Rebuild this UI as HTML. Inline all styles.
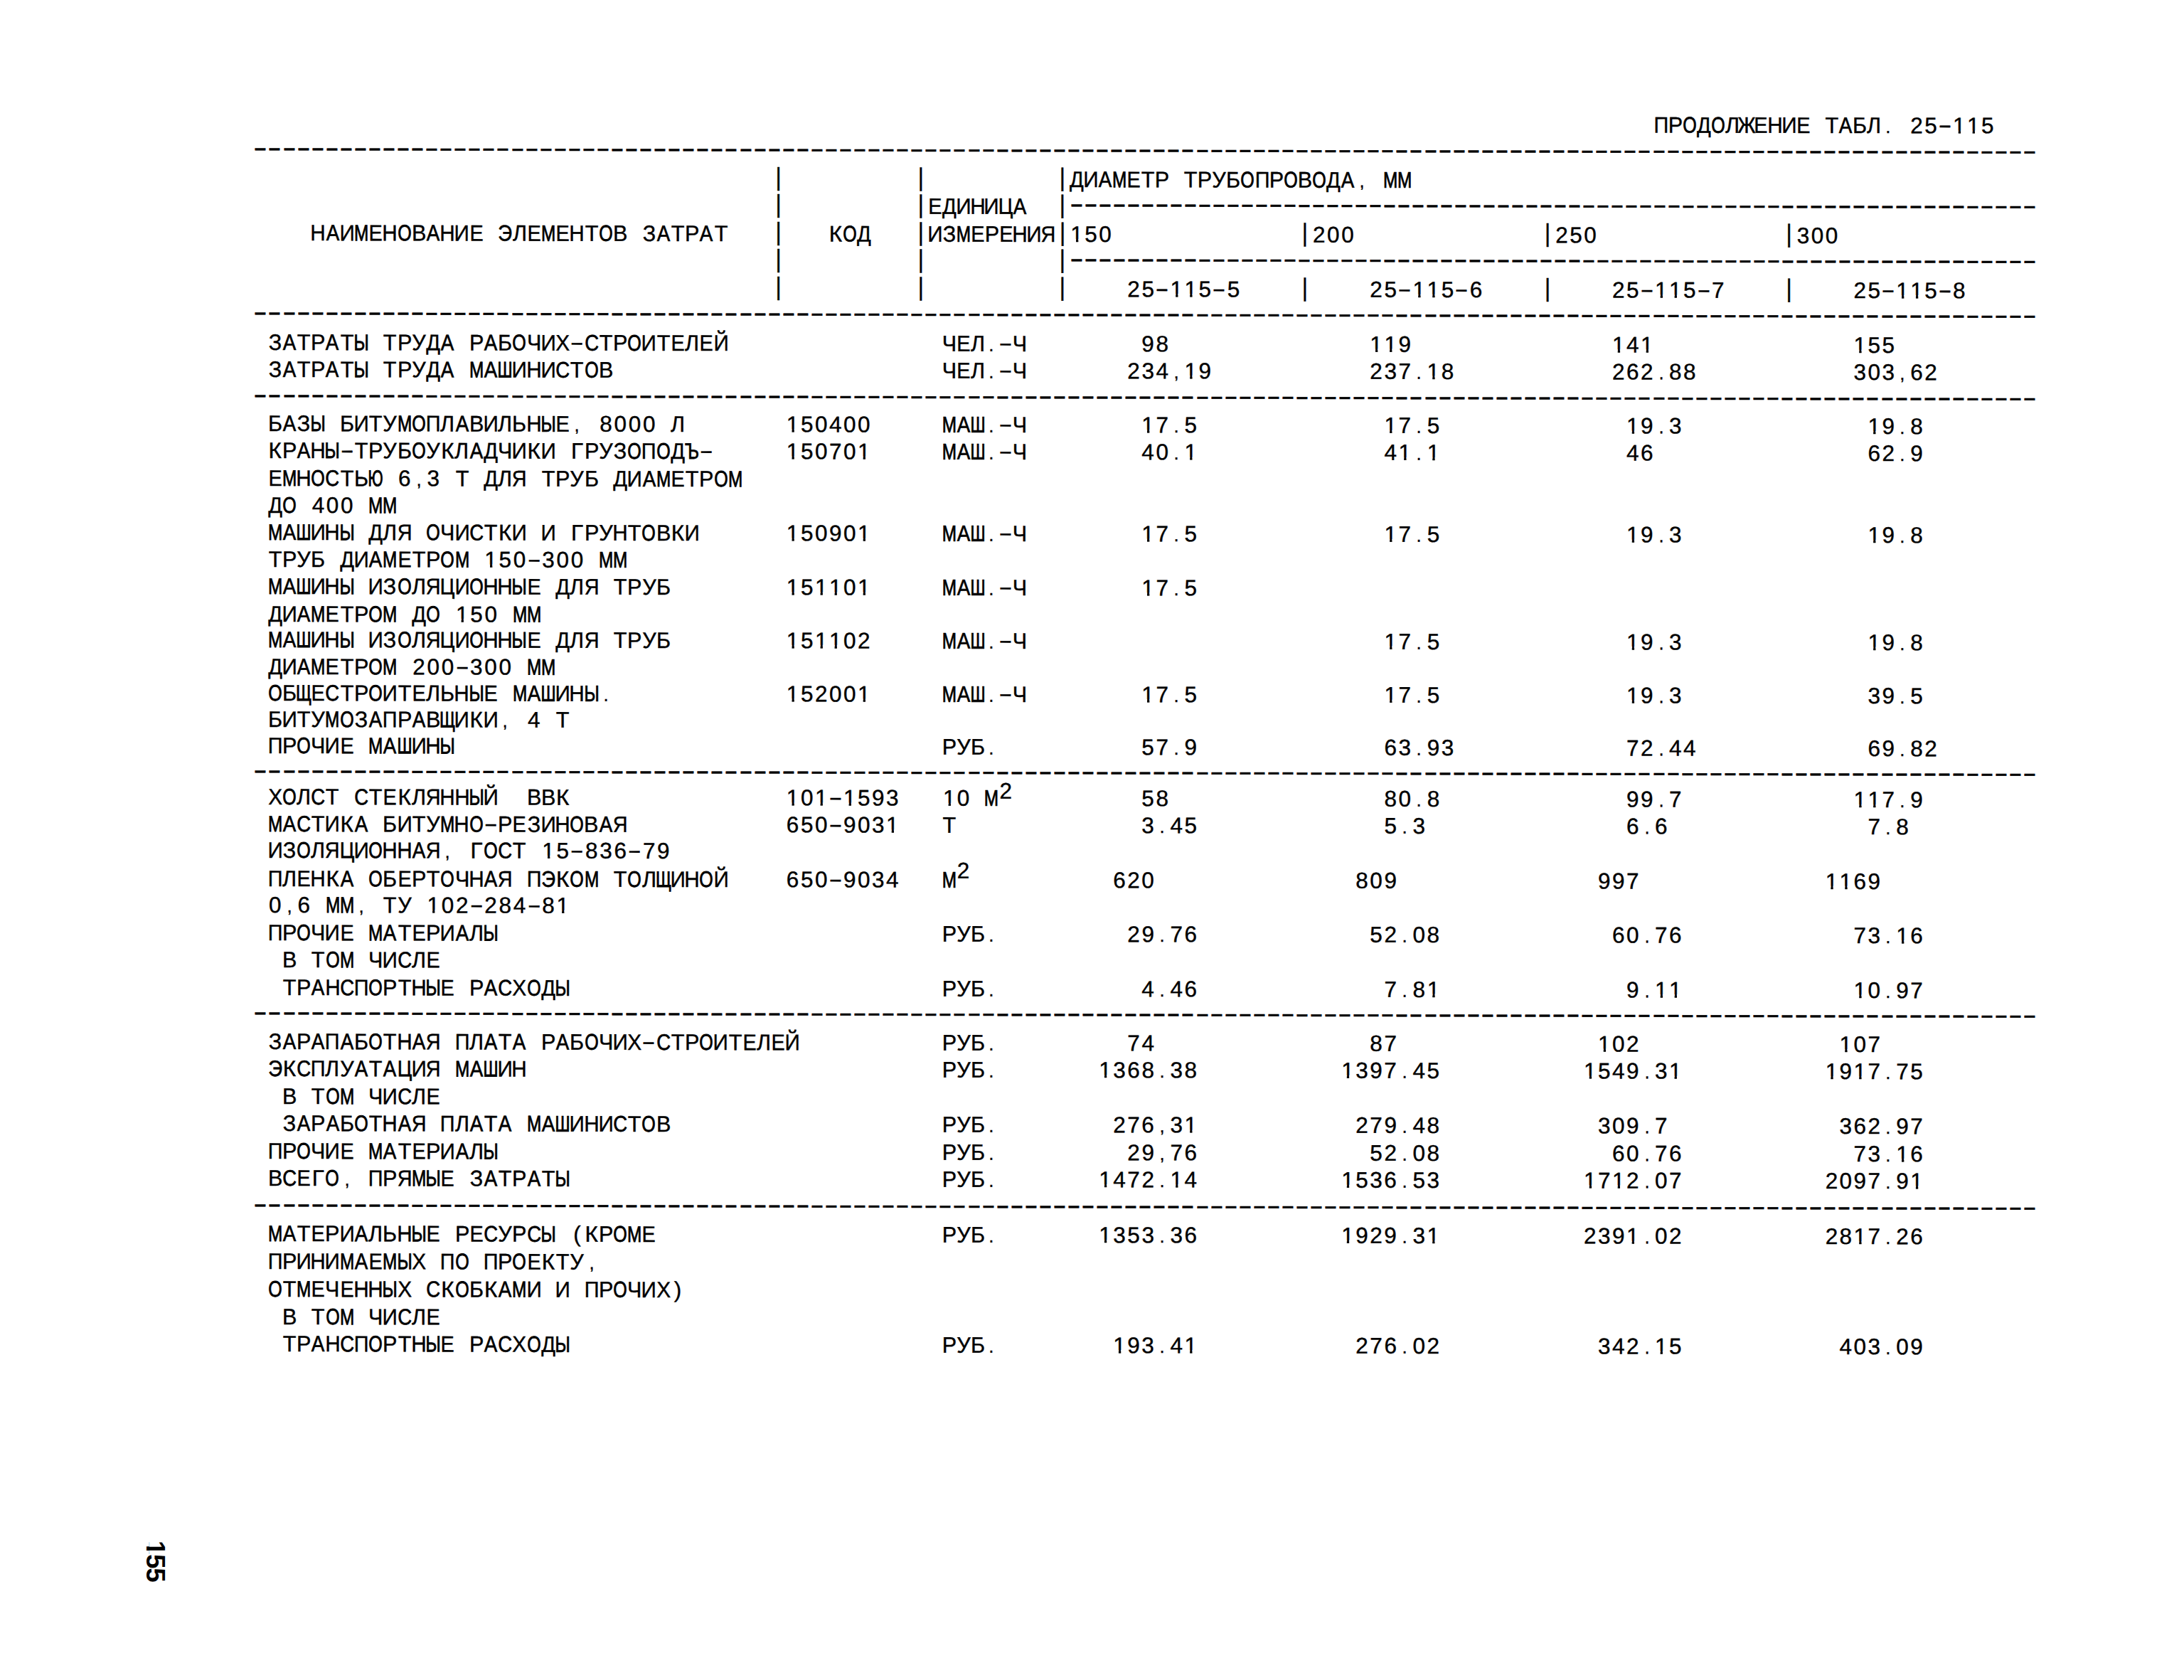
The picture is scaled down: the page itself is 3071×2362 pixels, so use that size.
<!DOCTYPE html>
<html lang="ru"><head><meta charset="utf-8"><title>Продолжение табл. 25-115</title>
<style>
html,body{margin:0;padding:0;background:#fff;}
body{width:3071px;height:2362px;overflow:hidden;position:relative;}
#pg{position:absolute;left:0;top:0;width:3071px;height:2362px;transform-origin:400px 300px;transform:skewY(0.105deg);}
.r{position:absolute;white-space:nowrap;font-family:"Liberation Sans",Arial,sans-serif;font-size:31.5px;line-height:31px;height:31px;color:#000;-webkit-text-stroke:0.4px #000;}
.r i,.r b,.r u{display:inline-flex;justify-content:center;width:var(--p);font-style:normal;font-weight:normal;text-decoration:none;}
.r i.o{clip-path:polygon(0 0,100% 0,100% 21.9px,calc(50% + 2.2px) 21.9px,calc(50% + 2.2px) 100%,calc(50% - 1.1px) 100%,calc(50% - 1.1px) 21.9px,0 21.9px);}
.r i.p{transform:scale(0.82);transform-origin:50% 25px;}
.r b{position:relative;top:-3px;transform:scaleY(1.12);}
.r u{position:relative;top:-1px;transform:scaleX(1.85);}
.d u{top:0;transform:scaleX(1.85) scaleY(1.1);}
#pn{position:absolute;left:209.5px;top:2166px;letter-spacing:-1.5px;font-family:"Liberation Sans",Arial,sans-serif;font-weight:bold;font-size:37px;line-height:37px;color:#000;transform-origin:0 0;transform:translate(27px,0) rotate(90deg);white-space:nowrap;}
#pn .o{display:inline-block;clip-path:polygon(0 0,100% 0,100% 27.2px,14.1px 27.2px,14.1px 100%,8.2px 100%,8.2px 27.2px,0 27.2px);}
</style></head><body><div id="pg">
<div class="r" style="left:2325.9px;top:157.2px;--p:19.973px"><i style="transform:scaleX(0.917)">П</i><i style="transform:scaleX(0.971)">Р</i><i style="transform:scaleX(0.795);-webkit-text-stroke-width:0.81px">О</i><i style="transform:scaleX(0.929)">Д</i><i style="transform:scaleX(0.795);-webkit-text-stroke-width:0.81px">О</i><i style="transform:scaleX(0.972)">Л</i><i style="transform:scaleX(0.857);-webkit-text-stroke-width:0.69px">Ж</i><i style="transform:scaleX(0.917)">Е</i><i style="transform:scaleX(0.944)">Н</i><i style="transform:scaleX(0.944)">И</i><i style="transform:scaleX(0.917)">Е</i></div>
<div class="r" style="left:2565.5px;top:157.2px;--p:19.933px"><i style="transform:scaleX(0.974)">Т</i><i style="transform:scaleX(0.881);-webkit-text-stroke-width:0.64px">А</i><i style="transform:scaleX(0.971)">Б</i><i style="transform:scaleX(0.972)">Л</i><i class="p">.</i></div>
<div class="r" style="left:2685.1px;top:157.2px;--p:19.933px"><i>2</i><i>5</i><u>-</u><i class="o">1</i><i class="o">1</i><i>5</i></div>
<div class="r" style="left:1084.6px;top:234.6px;--p:20.040px"><b>|</b></div>
<div class="r" style="left:1285.0px;top:234.6px;--p:19.880px"><b>|</b></div>
<div class="r" style="left:1483.8px;top:234.6px;--p:20.053px"><b>|</b><i style="transform:scaleX(0.929)">Д</i><i style="transform:scaleX(0.944)">И</i><i style="transform:scaleX(0.881);-webkit-text-stroke-width:0.64px">А</i><i style="transform:scaleX(0.773);-webkit-text-stroke-width:0.85px">М</i><i style="transform:scaleX(0.917)">Е</i><i style="transform:scaleX(0.974)">Т</i><i style="transform:scaleX(0.971)">Р</i></div>
<div class="r" style="left:1664.3px;top:234.6px;--p:20.062px"><i style="transform:scaleX(0.974)">Т</i><i style="transform:scaleX(0.971)">Р</i><i style="transform:scaleX(0.974)">У</i><i style="transform:scaleX(0.971)">Б</i><i style="transform:scaleX(0.795);-webkit-text-stroke-width:0.81px">О</i><i style="transform:scaleX(0.917)">П</i><i style="transform:scaleX(0.971)">Р</i><i style="transform:scaleX(0.795);-webkit-text-stroke-width:0.81px">О</i><i style="transform:scaleX(0.971)">В</i><i style="transform:scaleX(0.795);-webkit-text-stroke-width:0.81px">О</i><i style="transform:scaleX(0.929)">Д</i><i style="transform:scaleX(0.881);-webkit-text-stroke-width:0.64px">А</i><i class="p">,</i></div>
<div class="r" style="left:1945.2px;top:234.6px;--p:20.076px"><i style="transform:scaleX(0.773);-webkit-text-stroke-width:0.85px">М</i><i style="transform:scaleX(0.773);-webkit-text-stroke-width:0.85px">М</i></div>
<div class="r" style="left:1084.6px;top:273.1px;--p:20.040px"><b>|</b></div>
<div class="r" style="left:1285.0px;top:273.1px;--p:19.880px"><b>|</b><i style="transform:scaleX(0.917)">Е</i><i style="transform:scaleX(0.929)">Д</i><i style="transform:scaleX(0.944)">И</i><i style="transform:scaleX(0.944)">Н</i><i style="transform:scaleX(0.944)">И</i><i style="transform:scaleX(0.881);-webkit-text-stroke-width:0.64px">Ц</i><i style="transform:scaleX(0.881);-webkit-text-stroke-width:0.64px">А</i></div>
<div class="r" style="left:1483.8px;top:273.1px;--p:20.053px"><b>|</b></div>
<div class="r" style="left:437.3px;top:312.0px;--p:20.228px"><i style="transform:scaleX(0.944)">Н</i><i style="transform:scaleX(0.881);-webkit-text-stroke-width:0.64px">А</i><i style="transform:scaleX(0.944)">И</i><i style="transform:scaleX(0.773);-webkit-text-stroke-width:0.85px">М</i><i style="transform:scaleX(0.917)">Е</i><i style="transform:scaleX(0.944)">Н</i><i style="transform:scaleX(0.795);-webkit-text-stroke-width:0.81px">О</i><i style="transform:scaleX(0.971)">В</i><i style="transform:scaleX(0.881);-webkit-text-stroke-width:0.64px">А</i><i style="transform:scaleX(0.944)">Н</i><i style="transform:scaleX(0.944)">И</i><i style="transform:scaleX(0.917)">Е</i></div>
<div class="r" style="left:700.3px;top:312.0px;--p:20.228px"><i style="transform:scaleX(0.875);-webkit-text-stroke-width:0.65px">Э</i><i style="transform:scaleX(0.972)">Л</i><i style="transform:scaleX(0.917)">Е</i><i style="transform:scaleX(0.773);-webkit-text-stroke-width:0.85px">М</i><i style="transform:scaleX(0.917)">Е</i><i style="transform:scaleX(0.944)">Н</i><i style="transform:scaleX(0.974)">Т</i><i style="transform:scaleX(0.795);-webkit-text-stroke-width:0.81px">О</i><i style="transform:scaleX(0.971)">В</i></div>
<div class="r" style="left:902.5px;top:312.0px;--p:20.228px"><i style="transform:scaleX(0.971)">З</i><i style="transform:scaleX(0.881);-webkit-text-stroke-width:0.64px">А</i><i style="transform:scaleX(0.974)">Т</i><i style="transform:scaleX(0.971)">Р</i><i style="transform:scaleX(0.881);-webkit-text-stroke-width:0.64px">А</i><i style="transform:scaleX(0.974)">Т</i></div>
<div class="r" style="left:1084.6px;top:312.0px;--p:20.040px"><b>|</b></div>
<div class="r" style="left:1164.8px;top:312.0px;--p:20.040px"><i>К</i><i style="transform:scaleX(0.795);-webkit-text-stroke-width:0.81px">О</i><i style="transform:scaleX(0.929)">Д</i></div>
<div class="r" style="left:1285.0px;top:312.0px;--p:19.929px"><b>|</b><i style="transform:scaleX(0.944)">И</i><i style="transform:scaleX(0.971)">З</i><i style="transform:scaleX(0.773);-webkit-text-stroke-width:0.85px">М</i><i style="transform:scaleX(0.917)">Е</i><i style="transform:scaleX(0.971)">Р</i><i style="transform:scaleX(0.917)">Е</i><i style="transform:scaleX(0.944)">Н</i><i style="transform:scaleX(0.944)">И</i><i style="transform:scaleX(0.917)">Я</i><b>|</b><i class="o">1</i><i>5</i><i>0</i></div>
<div class="r" style="left:1824.7px;top:312.0px;--p:20.076px"><b>|</b><i>2</i><i>0</i><i>0</i></div>
<div class="r" style="left:2166.0px;top:312.0px;--p:19.982px"><b>|</b><i>2</i><i>5</i><i>0</i></div>
<div class="r" style="left:2505.7px;top:312.0px;--p:19.933px"><b>|</b><i>3</i><i>0</i><i>0</i></div>
<div class="r" style="left:1084.6px;top:350.4px;--p:20.040px"><b>|</b></div>
<div class="r" style="left:1285.0px;top:350.4px;--p:19.880px"><b>|</b></div>
<div class="r" style="left:1483.8px;top:350.4px;--p:20.053px"><b>|</b></div>
<div class="r" style="left:1084.6px;top:388.9px;--p:20.040px"><b>|</b></div>
<div class="r" style="left:1285.0px;top:388.9px;--p:19.880px"><b>|</b></div>
<div class="r" style="left:1483.8px;top:388.9px;--p:20.053px"><b>|</b></div>
<div class="r" style="left:1584.1px;top:388.9px;--p:20.053px"><i>2</i><i>5</i><u>-</u><i class="o">1</i><i class="o">1</i><i>5</i><u>-</u><i>5</i></div>
<div class="r" style="left:1824.7px;top:388.9px;--p:20.076px"><b>|</b></div>
<div class="r" style="left:1925.1px;top:388.9px;--p:20.076px"><i>2</i><i>5</i><u>-</u><i class="o">1</i><i class="o">1</i><i>5</i><u>-</u><i>6</i></div>
<div class="r" style="left:2166.0px;top:388.9px;--p:19.982px"><b>|</b></div>
<div class="r" style="left:2265.9px;top:388.9px;--p:19.982px"><i>2</i><i>5</i><u>-</u><i class="o">1</i><i class="o">1</i><i>5</i><u>-</u><i>7</i></div>
<div class="r" style="left:2505.7px;top:388.9px;--p:19.933px"><b>|</b></div>
<div class="r" style="left:2605.4px;top:388.9px;--p:19.933px"><i>2</i><i>5</i><u>-</u><i class="o">1</i><i class="o">1</i><i>5</i><u>-</u><i>8</i></div>
<div class="r" style="left:376.6px;top:465.8px;--p:20.228px"><i style="transform:scaleX(0.971)">З</i><i style="transform:scaleX(0.881);-webkit-text-stroke-width:0.64px">А</i><i style="transform:scaleX(0.974)">Т</i><i style="transform:scaleX(0.971)">Р</i><i style="transform:scaleX(0.881);-webkit-text-stroke-width:0.64px">А</i><i style="transform:scaleX(0.974)">Т</i><i style="transform:scaleX(0.761);-webkit-text-stroke-width:0.88px">Ы</i></div>
<div class="r" style="left:538.4px;top:465.8px;--p:20.228px"><i style="transform:scaleX(0.974)">Т</i><i style="transform:scaleX(0.971)">Р</i><i style="transform:scaleX(0.974)">У</i><i style="transform:scaleX(0.929)">Д</i><i style="transform:scaleX(0.881);-webkit-text-stroke-width:0.64px">А</i></div>
<div class="r" style="left:659.8px;top:465.8px;--p:20.228px"><i style="transform:scaleX(0.971)">Р</i><i style="transform:scaleX(0.881);-webkit-text-stroke-width:0.64px">А</i><i style="transform:scaleX(0.971)">Б</i><i style="transform:scaleX(0.795);-webkit-text-stroke-width:0.81px">О</i><i style="transform:scaleX(0.971)">Ч</i><i style="transform:scaleX(0.944)">И</i><i style="transform:scaleX(0.947)">Х</i><u>-</u><i style="transform:scaleX(0.875);-webkit-text-stroke-width:0.65px">С</i><i style="transform:scaleX(0.974)">Т</i><i style="transform:scaleX(0.971)">Р</i><i style="transform:scaleX(0.795);-webkit-text-stroke-width:0.81px">О</i><i style="transform:scaleX(0.944)">И</i><i style="transform:scaleX(0.974)">Т</i><i style="transform:scaleX(0.917)">Е</i><i style="transform:scaleX(0.972)">Л</i><i style="transform:scaleX(0.917)">Е</i><i style="transform:scaleX(0.944)">Й</i></div>
<div class="r" style="left:1324.8px;top:465.8px;--p:19.880px"><i style="transform:scaleX(0.971)">Ч</i><i style="transform:scaleX(0.917)">Е</i><i style="transform:scaleX(0.972)">Л</i><i class="p">.</i><u>-</u><i style="transform:scaleX(0.971)">Ч</i></div>
<div class="r" style="left:1604.1px;top:465.8px;--p:20.053px"><i>9</i><i>8</i></div>
<div class="r" style="left:1925.1px;top:465.8px;--p:20.076px"><i class="o">1</i><i class="o">1</i><i>9</i></div>
<div class="r" style="left:2265.9px;top:465.8px;--p:19.982px"><i class="o">1</i><i>4</i><i class="o">1</i></div>
<div class="r" style="left:2605.4px;top:465.8px;--p:19.933px"><i class="o">1</i><i>5</i><i>5</i></div>
<div class="r" style="left:376.6px;top:503.5px;--p:20.228px"><i style="transform:scaleX(0.971)">З</i><i style="transform:scaleX(0.881);-webkit-text-stroke-width:0.64px">А</i><i style="transform:scaleX(0.974)">Т</i><i style="transform:scaleX(0.971)">Р</i><i style="transform:scaleX(0.881);-webkit-text-stroke-width:0.64px">А</i><i style="transform:scaleX(0.974)">Т</i><i style="transform:scaleX(0.761);-webkit-text-stroke-width:0.88px">Ы</i></div>
<div class="r" style="left:538.4px;top:503.5px;--p:20.228px"><i style="transform:scaleX(0.974)">Т</i><i style="transform:scaleX(0.971)">Р</i><i style="transform:scaleX(0.974)">У</i><i style="transform:scaleX(0.929)">Д</i><i style="transform:scaleX(0.881);-webkit-text-stroke-width:0.64px">А</i></div>
<div class="r" style="left:659.8px;top:503.5px;--p:20.228px"><i style="transform:scaleX(0.773);-webkit-text-stroke-width:0.85px">М</i><i style="transform:scaleX(0.881);-webkit-text-stroke-width:0.64px">А</i><i style="transform:scaleX(0.729);-webkit-text-stroke-width:0.94px">Ш</i><i style="transform:scaleX(0.944)">И</i><i style="transform:scaleX(0.944)">Н</i><i style="transform:scaleX(0.944)">И</i><i style="transform:scaleX(0.875);-webkit-text-stroke-width:0.65px">С</i><i style="transform:scaleX(0.974)">Т</i><i style="transform:scaleX(0.795);-webkit-text-stroke-width:0.81px">О</i><i style="transform:scaleX(0.971)">В</i></div>
<div class="r" style="left:1324.8px;top:503.5px;--p:19.880px"><i style="transform:scaleX(0.971)">Ч</i><i style="transform:scaleX(0.917)">Е</i><i style="transform:scaleX(0.972)">Л</i><i class="p">.</i><u>-</u><i style="transform:scaleX(0.971)">Ч</i></div>
<div class="r" style="left:1584.1px;top:503.5px;--p:20.053px"><i>2</i><i>3</i><i>4</i><i class="p">,</i><i class="o">1</i><i>9</i></div>
<div class="r" style="left:1925.1px;top:503.5px;--p:20.076px"><i>2</i><i>3</i><i>7</i><i class="p">.</i><i class="o">1</i><i>8</i></div>
<div class="r" style="left:2265.9px;top:503.5px;--p:19.982px"><i>2</i><i>6</i><i>2</i><i class="p">.</i><i>8</i><i>8</i></div>
<div class="r" style="left:2605.4px;top:503.5px;--p:19.933px"><i>3</i><i>0</i><i>3</i><i class="p">,</i><i>6</i><i>2</i></div>
<div class="r" style="left:376.6px;top:580.1px;--p:20.228px"><i style="transform:scaleX(0.971)">Б</i><i style="transform:scaleX(0.881);-webkit-text-stroke-width:0.64px">А</i><i style="transform:scaleX(0.971)">З</i><i style="transform:scaleX(0.761);-webkit-text-stroke-width:0.88px">Ы</i></div>
<div class="r" style="left:477.8px;top:580.1px;--p:20.228px"><i style="transform:scaleX(0.971)">Б</i><i style="transform:scaleX(0.944)">И</i><i style="transform:scaleX(0.974)">Т</i><i style="transform:scaleX(0.974)">У</i><i style="transform:scaleX(0.773);-webkit-text-stroke-width:0.85px">М</i><i style="transform:scaleX(0.795);-webkit-text-stroke-width:0.81px">О</i><i style="transform:scaleX(0.917)">П</i><i style="transform:scaleX(0.972)">Л</i><i style="transform:scaleX(0.881);-webkit-text-stroke-width:0.64px">А</i><i style="transform:scaleX(0.971)">В</i><i style="transform:scaleX(0.944)">И</i><i style="transform:scaleX(0.972)">Л</i><i style="transform:scaleX(0.971)">Ь</i><i style="transform:scaleX(0.944)">Н</i><i style="transform:scaleX(0.761);-webkit-text-stroke-width:0.88px">Ы</i><i style="transform:scaleX(0.917)">Е</i><i class="p">,</i></div>
<div class="r" style="left:841.9px;top:580.1px;--p:20.228px"><i>8</i><i>0</i><i>0</i><i>0</i></div>
<div class="r" style="left:943.0px;top:580.1px;--p:20.228px"><i style="transform:scaleX(0.972)">Л</i></div>
<div class="r" style="left:1104.6px;top:580.1px;--p:20.040px"><i class="o">1</i><i>5</i><i>0</i><i>4</i><i>0</i><i>0</i></div>
<div class="r" style="left:1324.8px;top:580.1px;--p:19.880px"><i style="transform:scaleX(0.773);-webkit-text-stroke-width:0.85px">М</i><i style="transform:scaleX(0.881);-webkit-text-stroke-width:0.64px">А</i><i style="transform:scaleX(0.729);-webkit-text-stroke-width:0.94px">Ш</i><i class="p">.</i><u>-</u><i style="transform:scaleX(0.971)">Ч</i></div>
<div class="r" style="left:1604.1px;top:580.1px;--p:20.053px"><i class="o">1</i><i>7</i><i class="p">.</i><i>5</i></div>
<div class="r" style="left:1945.2px;top:580.1px;--p:20.076px"><i class="o">1</i><i>7</i><i class="p">.</i><i>5</i></div>
<div class="r" style="left:2285.9px;top:580.1px;--p:19.982px"><i class="o">1</i><i>9</i><i class="p">.</i><i>3</i></div>
<div class="r" style="left:2625.3px;top:580.1px;--p:19.933px"><i class="o">1</i><i>9</i><i class="p">.</i><i>8</i></div>
<div class="r" style="left:376.6px;top:618.4px;--p:20.228px"><i>К</i><i style="transform:scaleX(0.971)">Р</i><i style="transform:scaleX(0.881);-webkit-text-stroke-width:0.64px">А</i><i style="transform:scaleX(0.944)">Н</i><i style="transform:scaleX(0.761);-webkit-text-stroke-width:0.88px">Ы</i><u>-</u><i style="transform:scaleX(0.974)">Т</i><i style="transform:scaleX(0.971)">Р</i><i style="transform:scaleX(0.974)">У</i><i style="transform:scaleX(0.971)">Б</i><i style="transform:scaleX(0.795);-webkit-text-stroke-width:0.81px">О</i><i style="transform:scaleX(0.974)">У</i><i>К</i><i style="transform:scaleX(0.972)">Л</i><i style="transform:scaleX(0.881);-webkit-text-stroke-width:0.64px">А</i><i style="transform:scaleX(0.929)">Д</i><i style="transform:scaleX(0.971)">Ч</i><i style="transform:scaleX(0.944)">И</i><i>К</i><i style="transform:scaleX(0.944)">И</i></div>
<div class="r" style="left:801.4px;top:618.4px;--p:20.228px"><i>Г</i><i style="transform:scaleX(0.971)">Р</i><i style="transform:scaleX(0.974)">У</i><i style="transform:scaleX(0.971)">З</i><i style="transform:scaleX(0.795);-webkit-text-stroke-width:0.81px">О</i><i style="transform:scaleX(0.917)">П</i><i style="transform:scaleX(0.795);-webkit-text-stroke-width:0.81px">О</i><i style="transform:scaleX(0.929)">Д</i><i style="transform:scaleX(0.804);-webkit-text-stroke-width:0.79px">Ъ</i><u>-</u></div>
<div class="r" style="left:1104.6px;top:618.4px;--p:20.040px"><i class="o">1</i><i>5</i><i>0</i><i>7</i><i>0</i><i class="o">1</i></div>
<div class="r" style="left:1324.8px;top:618.4px;--p:19.880px"><i style="transform:scaleX(0.773);-webkit-text-stroke-width:0.85px">М</i><i style="transform:scaleX(0.881);-webkit-text-stroke-width:0.64px">А</i><i style="transform:scaleX(0.729);-webkit-text-stroke-width:0.94px">Ш</i><i class="p">.</i><u>-</u><i style="transform:scaleX(0.971)">Ч</i></div>
<div class="r" style="left:1604.1px;top:618.4px;--p:20.053px"><i>4</i><i>0</i><i class="p">.</i><i class="o">1</i></div>
<div class="r" style="left:1945.2px;top:618.4px;--p:20.076px"><i>4</i><i class="o">1</i><i class="p">.</i><i class="o">1</i></div>
<div class="r" style="left:2285.9px;top:618.4px;--p:19.982px"><i>4</i><i>6</i></div>
<div class="r" style="left:2625.3px;top:618.4px;--p:19.933px"><i>6</i><i>2</i><i class="p">.</i><i>9</i></div>
<div class="r" style="left:376.6px;top:656.5px;--p:20.228px"><i style="transform:scaleX(0.917)">Е</i><i style="transform:scaleX(0.773);-webkit-text-stroke-width:0.85px">М</i><i style="transform:scaleX(0.944)">Н</i><i style="transform:scaleX(0.795);-webkit-text-stroke-width:0.81px">О</i><i style="transform:scaleX(0.875);-webkit-text-stroke-width:0.65px">С</i><i style="transform:scaleX(0.974)">Т</i><i style="transform:scaleX(0.971)">Ь</i><i style="transform:scaleX(0.661);-webkit-text-stroke-width:1.08px">Ю</i></div>
<div class="r" style="left:558.7px;top:656.5px;--p:20.228px"><i>6</i><i class="p">,</i><i>3</i></div>
<div class="r" style="left:639.6px;top:656.5px;--p:20.228px"><i style="transform:scaleX(0.974)">Т</i></div>
<div class="r" style="left:680.0px;top:656.5px;--p:20.228px"><i style="transform:scaleX(0.929)">Д</i><i style="transform:scaleX(0.972)">Л</i><i style="transform:scaleX(0.917)">Я</i></div>
<div class="r" style="left:761.0px;top:656.5px;--p:20.228px"><i style="transform:scaleX(0.974)">Т</i><i style="transform:scaleX(0.971)">Р</i><i style="transform:scaleX(0.974)">У</i><i style="transform:scaleX(0.971)">Б</i></div>
<div class="r" style="left:862.1px;top:656.5px;--p:20.228px"><i style="transform:scaleX(0.929)">Д</i><i style="transform:scaleX(0.944)">И</i><i style="transform:scaleX(0.881);-webkit-text-stroke-width:0.64px">А</i><i style="transform:scaleX(0.773);-webkit-text-stroke-width:0.85px">М</i><i style="transform:scaleX(0.917)">Е</i><i style="transform:scaleX(0.974)">Т</i><i style="transform:scaleX(0.971)">Р</i><i style="transform:scaleX(0.795);-webkit-text-stroke-width:0.81px">О</i><i style="transform:scaleX(0.773);-webkit-text-stroke-width:0.85px">М</i></div>
<div class="r" style="left:376.6px;top:695.0px;--p:20.228px"><i style="transform:scaleX(0.929)">Д</i><i style="transform:scaleX(0.795);-webkit-text-stroke-width:0.81px">О</i></div>
<div class="r" style="left:437.3px;top:695.0px;--p:20.228px"><i>4</i><i>0</i><i>0</i></div>
<div class="r" style="left:518.2px;top:695.0px;--p:20.228px"><i style="transform:scaleX(0.773);-webkit-text-stroke-width:0.85px">М</i><i style="transform:scaleX(0.773);-webkit-text-stroke-width:0.85px">М</i></div>
<div class="r" style="left:376.6px;top:733.3px;--p:20.228px"><i style="transform:scaleX(0.773);-webkit-text-stroke-width:0.85px">М</i><i style="transform:scaleX(0.881);-webkit-text-stroke-width:0.64px">А</i><i style="transform:scaleX(0.729);-webkit-text-stroke-width:0.94px">Ш</i><i style="transform:scaleX(0.944)">И</i><i style="transform:scaleX(0.944)">Н</i><i style="transform:scaleX(0.761);-webkit-text-stroke-width:0.88px">Ы</i></div>
<div class="r" style="left:518.2px;top:733.3px;--p:20.228px"><i style="transform:scaleX(0.929)">Д</i><i style="transform:scaleX(0.972)">Л</i><i style="transform:scaleX(0.917)">Я</i></div>
<div class="r" style="left:599.1px;top:733.3px;--p:20.228px"><i style="transform:scaleX(0.795);-webkit-text-stroke-width:0.81px">О</i><i style="transform:scaleX(0.971)">Ч</i><i style="transform:scaleX(0.944)">И</i><i style="transform:scaleX(0.875);-webkit-text-stroke-width:0.65px">С</i><i style="transform:scaleX(0.974)">Т</i><i>К</i><i style="transform:scaleX(0.944)">И</i></div>
<div class="r" style="left:761.0px;top:733.3px;--p:20.228px"><i style="transform:scaleX(0.944)">И</i></div>
<div class="r" style="left:801.4px;top:733.3px;--p:20.228px"><i>Г</i><i style="transform:scaleX(0.971)">Р</i><i style="transform:scaleX(0.974)">У</i><i style="transform:scaleX(0.944)">Н</i><i style="transform:scaleX(0.974)">Т</i><i style="transform:scaleX(0.795);-webkit-text-stroke-width:0.81px">О</i><i style="transform:scaleX(0.971)">В</i><i>К</i><i style="transform:scaleX(0.944)">И</i></div>
<div class="r" style="left:1104.6px;top:733.3px;--p:20.040px"><i class="o">1</i><i>5</i><i>0</i><i>9</i><i>0</i><i class="o">1</i></div>
<div class="r" style="left:1324.8px;top:733.3px;--p:19.880px"><i style="transform:scaleX(0.773);-webkit-text-stroke-width:0.85px">М</i><i style="transform:scaleX(0.881);-webkit-text-stroke-width:0.64px">А</i><i style="transform:scaleX(0.729);-webkit-text-stroke-width:0.94px">Ш</i><i class="p">.</i><u>-</u><i style="transform:scaleX(0.971)">Ч</i></div>
<div class="r" style="left:1604.1px;top:733.3px;--p:20.053px"><i class="o">1</i><i>7</i><i class="p">.</i><i>5</i></div>
<div class="r" style="left:1945.2px;top:733.3px;--p:20.076px"><i class="o">1</i><i>7</i><i class="p">.</i><i>5</i></div>
<div class="r" style="left:2285.9px;top:733.3px;--p:19.982px"><i class="o">1</i><i>9</i><i class="p">.</i><i>3</i></div>
<div class="r" style="left:2625.3px;top:733.3px;--p:19.933px"><i class="o">1</i><i>9</i><i class="p">.</i><i>8</i></div>
<div class="r" style="left:376.6px;top:771.4px;--p:20.228px"><i style="transform:scaleX(0.974)">Т</i><i style="transform:scaleX(0.971)">Р</i><i style="transform:scaleX(0.974)">У</i><i style="transform:scaleX(0.971)">Б</i></div>
<div class="r" style="left:477.8px;top:771.4px;--p:20.228px"><i style="transform:scaleX(0.929)">Д</i><i style="transform:scaleX(0.944)">И</i><i style="transform:scaleX(0.881);-webkit-text-stroke-width:0.64px">А</i><i style="transform:scaleX(0.773);-webkit-text-stroke-width:0.85px">М</i><i style="transform:scaleX(0.917)">Е</i><i style="transform:scaleX(0.974)">Т</i><i style="transform:scaleX(0.971)">Р</i><i style="transform:scaleX(0.795);-webkit-text-stroke-width:0.81px">О</i><i style="transform:scaleX(0.773);-webkit-text-stroke-width:0.85px">М</i></div>
<div class="r" style="left:680.0px;top:771.4px;--p:20.228px"><i class="o">1</i><i>5</i><i>0</i><u>-</u><i>3</i><i>0</i><i>0</i></div>
<div class="r" style="left:841.9px;top:771.4px;--p:20.228px"><i style="transform:scaleX(0.773);-webkit-text-stroke-width:0.85px">М</i><i style="transform:scaleX(0.773);-webkit-text-stroke-width:0.85px">М</i></div>
<div class="r" style="left:376.6px;top:809.1px;--p:20.228px"><i style="transform:scaleX(0.773);-webkit-text-stroke-width:0.85px">М</i><i style="transform:scaleX(0.881);-webkit-text-stroke-width:0.64px">А</i><i style="transform:scaleX(0.729);-webkit-text-stroke-width:0.94px">Ш</i><i style="transform:scaleX(0.944)">И</i><i style="transform:scaleX(0.944)">Н</i><i style="transform:scaleX(0.761);-webkit-text-stroke-width:0.88px">Ы</i></div>
<div class="r" style="left:518.2px;top:809.1px;--p:20.228px"><i style="transform:scaleX(0.944)">И</i><i style="transform:scaleX(0.971)">З</i><i style="transform:scaleX(0.795);-webkit-text-stroke-width:0.81px">О</i><i style="transform:scaleX(0.972)">Л</i><i style="transform:scaleX(0.917)">Я</i><i style="transform:scaleX(0.881);-webkit-text-stroke-width:0.64px">Ц</i><i style="transform:scaleX(0.944)">И</i><i style="transform:scaleX(0.795);-webkit-text-stroke-width:0.81px">О</i><i style="transform:scaleX(0.944)">Н</i><i style="transform:scaleX(0.944)">Н</i><i style="transform:scaleX(0.761);-webkit-text-stroke-width:0.88px">Ы</i><i style="transform:scaleX(0.917)">Е</i></div>
<div class="r" style="left:781.2px;top:809.1px;--p:20.228px"><i style="transform:scaleX(0.929)">Д</i><i style="transform:scaleX(0.972)">Л</i><i style="transform:scaleX(0.917)">Я</i></div>
<div class="r" style="left:862.1px;top:809.1px;--p:20.228px"><i style="transform:scaleX(0.974)">Т</i><i style="transform:scaleX(0.971)">Р</i><i style="transform:scaleX(0.974)">У</i><i style="transform:scaleX(0.971)">Б</i></div>
<div class="r" style="left:1104.6px;top:809.1px;--p:20.040px"><i class="o">1</i><i>5</i><i class="o">1</i><i class="o">1</i><i>0</i><i class="o">1</i></div>
<div class="r" style="left:1324.8px;top:809.1px;--p:19.880px"><i style="transform:scaleX(0.773);-webkit-text-stroke-width:0.85px">М</i><i style="transform:scaleX(0.881);-webkit-text-stroke-width:0.64px">А</i><i style="transform:scaleX(0.729);-webkit-text-stroke-width:0.94px">Ш</i><i class="p">.</i><u>-</u><i style="transform:scaleX(0.971)">Ч</i></div>
<div class="r" style="left:1604.1px;top:809.1px;--p:20.053px"><i class="o">1</i><i>7</i><i class="p">.</i><i>5</i></div>
<div class="r" style="left:376.6px;top:847.5px;--p:20.228px"><i style="transform:scaleX(0.929)">Д</i><i style="transform:scaleX(0.944)">И</i><i style="transform:scaleX(0.881);-webkit-text-stroke-width:0.64px">А</i><i style="transform:scaleX(0.773);-webkit-text-stroke-width:0.85px">М</i><i style="transform:scaleX(0.917)">Е</i><i style="transform:scaleX(0.974)">Т</i><i style="transform:scaleX(0.971)">Р</i><i style="transform:scaleX(0.795);-webkit-text-stroke-width:0.81px">О</i><i style="transform:scaleX(0.773);-webkit-text-stroke-width:0.85px">М</i></div>
<div class="r" style="left:578.9px;top:847.5px;--p:20.228px"><i style="transform:scaleX(0.929)">Д</i><i style="transform:scaleX(0.795);-webkit-text-stroke-width:0.81px">О</i></div>
<div class="r" style="left:639.6px;top:847.5px;--p:20.228px"><i class="o">1</i><i>5</i><i>0</i></div>
<div class="r" style="left:720.5px;top:847.5px;--p:20.228px"><i style="transform:scaleX(0.773);-webkit-text-stroke-width:0.85px">М</i><i style="transform:scaleX(0.773);-webkit-text-stroke-width:0.85px">М</i></div>
<div class="r" style="left:376.6px;top:883.5px;--p:20.228px"><i style="transform:scaleX(0.773);-webkit-text-stroke-width:0.85px">М</i><i style="transform:scaleX(0.881);-webkit-text-stroke-width:0.64px">А</i><i style="transform:scaleX(0.729);-webkit-text-stroke-width:0.94px">Ш</i><i style="transform:scaleX(0.944)">И</i><i style="transform:scaleX(0.944)">Н</i><i style="transform:scaleX(0.761);-webkit-text-stroke-width:0.88px">Ы</i></div>
<div class="r" style="left:518.2px;top:883.5px;--p:20.228px"><i style="transform:scaleX(0.944)">И</i><i style="transform:scaleX(0.971)">З</i><i style="transform:scaleX(0.795);-webkit-text-stroke-width:0.81px">О</i><i style="transform:scaleX(0.972)">Л</i><i style="transform:scaleX(0.917)">Я</i><i style="transform:scaleX(0.881);-webkit-text-stroke-width:0.64px">Ц</i><i style="transform:scaleX(0.944)">И</i><i style="transform:scaleX(0.795);-webkit-text-stroke-width:0.81px">О</i><i style="transform:scaleX(0.944)">Н</i><i style="transform:scaleX(0.944)">Н</i><i style="transform:scaleX(0.761);-webkit-text-stroke-width:0.88px">Ы</i><i style="transform:scaleX(0.917)">Е</i></div>
<div class="r" style="left:781.2px;top:883.5px;--p:20.228px"><i style="transform:scaleX(0.929)">Д</i><i style="transform:scaleX(0.972)">Л</i><i style="transform:scaleX(0.917)">Я</i></div>
<div class="r" style="left:862.1px;top:883.5px;--p:20.228px"><i style="transform:scaleX(0.974)">Т</i><i style="transform:scaleX(0.971)">Р</i><i style="transform:scaleX(0.974)">У</i><i style="transform:scaleX(0.971)">Б</i></div>
<div class="r" style="left:1104.6px;top:883.5px;--p:20.040px"><i class="o">1</i><i>5</i><i class="o">1</i><i class="o">1</i><i>0</i><i>2</i></div>
<div class="r" style="left:1324.8px;top:883.5px;--p:19.880px"><i style="transform:scaleX(0.773);-webkit-text-stroke-width:0.85px">М</i><i style="transform:scaleX(0.881);-webkit-text-stroke-width:0.64px">А</i><i style="transform:scaleX(0.729);-webkit-text-stroke-width:0.94px">Ш</i><i class="p">.</i><u>-</u><i style="transform:scaleX(0.971)">Ч</i></div>
<div class="r" style="left:1945.2px;top:883.5px;--p:20.076px"><i class="o">1</i><i>7</i><i class="p">.</i><i>5</i></div>
<div class="r" style="left:2285.9px;top:883.5px;--p:19.982px"><i class="o">1</i><i>9</i><i class="p">.</i><i>3</i></div>
<div class="r" style="left:2625.3px;top:883.5px;--p:19.933px"><i class="o">1</i><i>9</i><i class="p">.</i><i>8</i></div>
<div class="r" style="left:376.6px;top:921.6px;--p:20.228px"><i style="transform:scaleX(0.929)">Д</i><i style="transform:scaleX(0.944)">И</i><i style="transform:scaleX(0.881);-webkit-text-stroke-width:0.64px">А</i><i style="transform:scaleX(0.773);-webkit-text-stroke-width:0.85px">М</i><i style="transform:scaleX(0.917)">Е</i><i style="transform:scaleX(0.974)">Т</i><i style="transform:scaleX(0.971)">Р</i><i style="transform:scaleX(0.795);-webkit-text-stroke-width:0.81px">О</i><i style="transform:scaleX(0.773);-webkit-text-stroke-width:0.85px">М</i></div>
<div class="r" style="left:578.9px;top:921.6px;--p:20.228px"><i>2</i><i>0</i><i>0</i><u>-</u><i>3</i><i>0</i><i>0</i></div>
<div class="r" style="left:740.7px;top:921.6px;--p:20.228px"><i style="transform:scaleX(0.773);-webkit-text-stroke-width:0.85px">М</i><i style="transform:scaleX(0.773);-webkit-text-stroke-width:0.85px">М</i></div>
<div class="r" style="left:376.6px;top:959.0px;--p:20.228px"><i style="transform:scaleX(0.795);-webkit-text-stroke-width:0.81px">О</i><i style="transform:scaleX(0.971)">Б</i><i style="transform:scaleX(0.750);-webkit-text-stroke-width:0.90px">Щ</i><i style="transform:scaleX(0.917)">Е</i><i style="transform:scaleX(0.875);-webkit-text-stroke-width:0.65px">С</i><i style="transform:scaleX(0.974)">Т</i><i style="transform:scaleX(0.971)">Р</i><i style="transform:scaleX(0.795);-webkit-text-stroke-width:0.81px">О</i><i style="transform:scaleX(0.944)">И</i><i style="transform:scaleX(0.974)">Т</i><i style="transform:scaleX(0.917)">Е</i><i style="transform:scaleX(0.972)">Л</i><i style="transform:scaleX(0.971)">Ь</i><i style="transform:scaleX(0.944)">Н</i><i style="transform:scaleX(0.761);-webkit-text-stroke-width:0.88px">Ы</i><i style="transform:scaleX(0.917)">Е</i></div>
<div class="r" style="left:720.5px;top:959.0px;--p:20.228px"><i style="transform:scaleX(0.773);-webkit-text-stroke-width:0.85px">М</i><i style="transform:scaleX(0.881);-webkit-text-stroke-width:0.64px">А</i><i style="transform:scaleX(0.729);-webkit-text-stroke-width:0.94px">Ш</i><i style="transform:scaleX(0.944)">И</i><i style="transform:scaleX(0.944)">Н</i><i style="transform:scaleX(0.761);-webkit-text-stroke-width:0.88px">Ы</i><i class="p">.</i></div>
<div class="r" style="left:1104.6px;top:959.0px;--p:20.040px"><i class="o">1</i><i>5</i><i>2</i><i>0</i><i>0</i><i class="o">1</i></div>
<div class="r" style="left:1324.8px;top:959.0px;--p:19.880px"><i style="transform:scaleX(0.773);-webkit-text-stroke-width:0.85px">М</i><i style="transform:scaleX(0.881);-webkit-text-stroke-width:0.64px">А</i><i style="transform:scaleX(0.729);-webkit-text-stroke-width:0.94px">Ш</i><i class="p">.</i><u>-</u><i style="transform:scaleX(0.971)">Ч</i></div>
<div class="r" style="left:1604.1px;top:959.0px;--p:20.053px"><i class="o">1</i><i>7</i><i class="p">.</i><i>5</i></div>
<div class="r" style="left:1945.2px;top:959.0px;--p:20.076px"><i class="o">1</i><i>7</i><i class="p">.</i><i>5</i></div>
<div class="r" style="left:2285.9px;top:959.0px;--p:19.982px"><i class="o">1</i><i>9</i><i class="p">.</i><i>3</i></div>
<div class="r" style="left:2625.3px;top:959.0px;--p:19.933px"><i>3</i><i>9</i><i class="p">.</i><i>5</i></div>
<div class="r" style="left:376.6px;top:996.3px;--p:20.228px"><i style="transform:scaleX(0.971)">Б</i><i style="transform:scaleX(0.944)">И</i><i style="transform:scaleX(0.974)">Т</i><i style="transform:scaleX(0.974)">У</i><i style="transform:scaleX(0.773);-webkit-text-stroke-width:0.85px">М</i><i style="transform:scaleX(0.795);-webkit-text-stroke-width:0.81px">О</i><i style="transform:scaleX(0.971)">З</i><i style="transform:scaleX(0.881);-webkit-text-stroke-width:0.64px">А</i><i style="transform:scaleX(0.917)">П</i><i style="transform:scaleX(0.971)">Р</i><i style="transform:scaleX(0.881);-webkit-text-stroke-width:0.64px">А</i><i style="transform:scaleX(0.971)">В</i><i style="transform:scaleX(0.750);-webkit-text-stroke-width:0.90px">Щ</i><i style="transform:scaleX(0.944)">И</i><i>К</i><i style="transform:scaleX(0.944)">И</i><i class="p">,</i></div>
<div class="r" style="left:740.7px;top:996.3px;--p:20.228px"><i>4</i></div>
<div class="r" style="left:781.2px;top:996.3px;--p:20.228px"><i style="transform:scaleX(0.974)">Т</i></div>
<div class="r" style="left:376.6px;top:1032.6px;--p:20.228px"><i style="transform:scaleX(0.917)">П</i><i style="transform:scaleX(0.971)">Р</i><i style="transform:scaleX(0.795);-webkit-text-stroke-width:0.81px">О</i><i style="transform:scaleX(0.971)">Ч</i><i style="transform:scaleX(0.944)">И</i><i style="transform:scaleX(0.917)">Е</i></div>
<div class="r" style="left:518.2px;top:1032.6px;--p:20.228px"><i style="transform:scaleX(0.773);-webkit-text-stroke-width:0.85px">М</i><i style="transform:scaleX(0.881);-webkit-text-stroke-width:0.64px">А</i><i style="transform:scaleX(0.729);-webkit-text-stroke-width:0.94px">Ш</i><i style="transform:scaleX(0.944)">И</i><i style="transform:scaleX(0.944)">Н</i><i style="transform:scaleX(0.761);-webkit-text-stroke-width:0.88px">Ы</i></div>
<div class="r" style="left:1324.8px;top:1032.6px;--p:19.880px"><i style="transform:scaleX(0.971)">Р</i><i style="transform:scaleX(0.974)">У</i><i style="transform:scaleX(0.971)">Б</i><i class="p">.</i></div>
<div class="r" style="left:1604.1px;top:1032.6px;--p:20.053px"><i>5</i><i>7</i><i class="p">.</i><i>9</i></div>
<div class="r" style="left:1945.2px;top:1032.6px;--p:20.076px"><i>6</i><i>3</i><i class="p">.</i><i>9</i><i>3</i></div>
<div class="r" style="left:2285.9px;top:1032.6px;--p:19.982px"><i>7</i><i>2</i><i class="p">.</i><i>4</i><i>4</i></div>
<div class="r" style="left:2625.3px;top:1032.6px;--p:19.933px"><i>6</i><i>9</i><i class="p">.</i><i>8</i><i>2</i></div>
<div class="r" style="left:376.6px;top:1105.2px;--p:20.228px"><i style="transform:scaleX(0.947)">Х</i><i style="transform:scaleX(0.795);-webkit-text-stroke-width:0.81px">О</i><i style="transform:scaleX(0.972)">Л</i><i style="transform:scaleX(0.875);-webkit-text-stroke-width:0.65px">С</i><i style="transform:scaleX(0.974)">Т</i></div>
<div class="r" style="left:498.0px;top:1105.2px;--p:20.228px"><i style="transform:scaleX(0.875);-webkit-text-stroke-width:0.65px">С</i><i style="transform:scaleX(0.974)">Т</i><i style="transform:scaleX(0.917)">Е</i><i>К</i><i style="transform:scaleX(0.972)">Л</i><i style="transform:scaleX(0.917)">Я</i><i style="transform:scaleX(0.944)">Н</i><i style="transform:scaleX(0.944)">Н</i><i style="transform:scaleX(0.761);-webkit-text-stroke-width:0.88px">Ы</i><i style="transform:scaleX(0.944)">Й</i></div>
<div class="r" style="left:740.7px;top:1105.2px;--p:20.228px"><i style="transform:scaleX(0.971)">В</i><i style="transform:scaleX(0.971)">В</i><i>К</i></div>
<div class="r" style="left:1104.6px;top:1105.2px;--p:20.040px"><i class="o">1</i><i>0</i><i class="o">1</i><u>-</u><i class="o">1</i><i>5</i><i>9</i><i>3</i></div>
<div class="r" style="left:1324.8px;top:1105.2px;--p:19.880px"><i class="o">1</i><i>0</i></div>
<div class="r" style="left:1384.4px;top:1105.2px;--p:19.880px"><i style="transform:scaleX(0.773);-webkit-text-stroke-width:0.85px">М</i></div>
<div class="r" style="left:1604.1px;top:1105.2px;--p:20.053px"><i>5</i><i>8</i></div>
<div class="r" style="left:1945.2px;top:1105.2px;--p:20.076px"><i>8</i><i>0</i><i class="p">.</i><i>8</i></div>
<div class="r" style="left:2285.9px;top:1105.2px;--p:19.982px"><i>9</i><i>9</i><i class="p">.</i><i>7</i></div>
<div class="r" style="left:2605.4px;top:1105.2px;--p:19.933px"><i class="o">1</i><i class="o">1</i><i>7</i><i class="p">.</i><i>9</i></div>
<div class="r" style="left:376.6px;top:1143.0px;--p:20.228px"><i style="transform:scaleX(0.773);-webkit-text-stroke-width:0.85px">М</i><i style="transform:scaleX(0.881);-webkit-text-stroke-width:0.64px">А</i><i style="transform:scaleX(0.875);-webkit-text-stroke-width:0.65px">С</i><i style="transform:scaleX(0.974)">Т</i><i style="transform:scaleX(0.944)">И</i><i>К</i><i style="transform:scaleX(0.881);-webkit-text-stroke-width:0.64px">А</i></div>
<div class="r" style="left:538.4px;top:1143.0px;--p:20.228px"><i style="transform:scaleX(0.971)">Б</i><i style="transform:scaleX(0.944)">И</i><i style="transform:scaleX(0.974)">Т</i><i style="transform:scaleX(0.974)">У</i><i style="transform:scaleX(0.773);-webkit-text-stroke-width:0.85px">М</i><i style="transform:scaleX(0.944)">Н</i><i style="transform:scaleX(0.795);-webkit-text-stroke-width:0.81px">О</i><u>-</u><i style="transform:scaleX(0.971)">Р</i><i style="transform:scaleX(0.917)">Е</i><i style="transform:scaleX(0.971)">З</i><i style="transform:scaleX(0.944)">И</i><i style="transform:scaleX(0.944)">Н</i><i style="transform:scaleX(0.795);-webkit-text-stroke-width:0.81px">О</i><i style="transform:scaleX(0.971)">В</i><i style="transform:scaleX(0.881);-webkit-text-stroke-width:0.64px">А</i><i style="transform:scaleX(0.917)">Я</i></div>
<div class="r" style="left:1104.6px;top:1143.0px;--p:20.040px"><i>6</i><i>5</i><i>0</i><u>-</u><i>9</i><i>0</i><i>3</i><i class="o">1</i></div>
<div class="r" style="left:1324.8px;top:1143.0px;--p:19.880px"><i style="transform:scaleX(0.974)">Т</i></div>
<div class="r" style="left:1604.1px;top:1143.0px;--p:20.053px"><i>3</i><i class="p">.</i><i>4</i><i>5</i></div>
<div class="r" style="left:1945.2px;top:1143.0px;--p:20.076px"><i>5</i><i class="p">.</i><i>3</i></div>
<div class="r" style="left:2285.9px;top:1143.0px;--p:19.982px"><i>6</i><i class="p">.</i><i>6</i></div>
<div class="r" style="left:2625.3px;top:1143.0px;--p:19.933px"><i>7</i><i class="p">.</i><i>8</i></div>
<div class="r" style="left:376.6px;top:1180.4px;--p:20.228px"><i style="transform:scaleX(0.944)">И</i><i style="transform:scaleX(0.971)">З</i><i style="transform:scaleX(0.795);-webkit-text-stroke-width:0.81px">О</i><i style="transform:scaleX(0.972)">Л</i><i style="transform:scaleX(0.917)">Я</i><i style="transform:scaleX(0.881);-webkit-text-stroke-width:0.64px">Ц</i><i style="transform:scaleX(0.944)">И</i><i style="transform:scaleX(0.795);-webkit-text-stroke-width:0.81px">О</i><i style="transform:scaleX(0.944)">Н</i><i style="transform:scaleX(0.944)">Н</i><i style="transform:scaleX(0.881);-webkit-text-stroke-width:0.64px">А</i><i style="transform:scaleX(0.917)">Я</i><i class="p">,</i></div>
<div class="r" style="left:659.8px;top:1180.4px;--p:20.228px"><i>Г</i><i style="transform:scaleX(0.795);-webkit-text-stroke-width:0.81px">О</i><i style="transform:scaleX(0.875);-webkit-text-stroke-width:0.65px">С</i><i style="transform:scaleX(0.974)">Т</i></div>
<div class="r" style="left:761.0px;top:1180.4px;--p:20.228px"><i class="o">1</i><i>5</i><u>-</u><i>8</i><i>3</i><i>6</i><u>-</u><i>7</i><i>9</i></div>
<div class="r" style="left:376.6px;top:1219.7px;--p:20.228px"><i style="transform:scaleX(0.917)">П</i><i style="transform:scaleX(0.972)">Л</i><i style="transform:scaleX(0.917)">Е</i><i style="transform:scaleX(0.944)">Н</i><i>К</i><i style="transform:scaleX(0.881);-webkit-text-stroke-width:0.64px">А</i></div>
<div class="r" style="left:518.2px;top:1219.7px;--p:20.228px"><i style="transform:scaleX(0.795);-webkit-text-stroke-width:0.81px">О</i><i style="transform:scaleX(0.971)">Б</i><i style="transform:scaleX(0.917)">Е</i><i style="transform:scaleX(0.971)">Р</i><i style="transform:scaleX(0.974)">Т</i><i style="transform:scaleX(0.795);-webkit-text-stroke-width:0.81px">О</i><i style="transform:scaleX(0.971)">Ч</i><i style="transform:scaleX(0.944)">Н</i><i style="transform:scaleX(0.881);-webkit-text-stroke-width:0.64px">А</i><i style="transform:scaleX(0.917)">Я</i></div>
<div class="r" style="left:740.7px;top:1219.7px;--p:20.228px"><i style="transform:scaleX(0.917)">П</i><i style="transform:scaleX(0.875);-webkit-text-stroke-width:0.65px">Э</i><i>К</i><i style="transform:scaleX(0.795);-webkit-text-stroke-width:0.81px">О</i><i style="transform:scaleX(0.773);-webkit-text-stroke-width:0.85px">М</i></div>
<div class="r" style="left:862.1px;top:1219.7px;--p:20.228px"><i style="transform:scaleX(0.974)">Т</i><i style="transform:scaleX(0.795);-webkit-text-stroke-width:0.81px">О</i><i style="transform:scaleX(0.972)">Л</i><i style="transform:scaleX(0.750);-webkit-text-stroke-width:0.90px">Щ</i><i style="transform:scaleX(0.944)">И</i><i style="transform:scaleX(0.944)">Н</i><i style="transform:scaleX(0.795);-webkit-text-stroke-width:0.81px">О</i><i style="transform:scaleX(0.944)">Й</i></div>
<div class="r" style="left:1104.6px;top:1219.7px;--p:20.040px"><i>6</i><i>5</i><i>0</i><u>-</u><i>9</i><i>0</i><i>3</i><i>4</i></div>
<div class="r" style="left:1324.8px;top:1219.7px;--p:19.880px"><i style="transform:scaleX(0.773);-webkit-text-stroke-width:0.85px">М</i></div>
<div class="r" style="left:1564.0px;top:1219.7px;--p:20.053px"><i>6</i><i>2</i><i>0</i></div>
<div class="r" style="left:1905.0px;top:1219.7px;--p:20.076px"><i>8</i><i>0</i><i>9</i></div>
<div class="r" style="left:2245.9px;top:1219.7px;--p:19.982px"><i>9</i><i>9</i><i>7</i></div>
<div class="r" style="left:2565.5px;top:1219.7px;--p:19.933px"><i class="o">1</i><i class="o">1</i><i>6</i><i>9</i></div>
<div class="r" style="left:376.6px;top:1257.2px;--p:20.228px"><i>0</i><i class="p">,</i><i>6</i></div>
<div class="r" style="left:457.5px;top:1257.2px;--p:20.228px"><i style="transform:scaleX(0.773);-webkit-text-stroke-width:0.85px">М</i><i style="transform:scaleX(0.773);-webkit-text-stroke-width:0.85px">М</i><i class="p">,</i></div>
<div class="r" style="left:538.4px;top:1257.2px;--p:20.228px"><i style="transform:scaleX(0.974)">Т</i><i style="transform:scaleX(0.974)">У</i></div>
<div class="r" style="left:599.1px;top:1257.2px;--p:20.228px"><i class="o">1</i><i>0</i><i>2</i><u>-</u><i>2</i><i>8</i><i>4</i><u>-</u><i>8</i><i class="o">1</i></div>
<div class="r" style="left:376.6px;top:1295.9px;--p:20.228px"><i style="transform:scaleX(0.917)">П</i><i style="transform:scaleX(0.971)">Р</i><i style="transform:scaleX(0.795);-webkit-text-stroke-width:0.81px">О</i><i style="transform:scaleX(0.971)">Ч</i><i style="transform:scaleX(0.944)">И</i><i style="transform:scaleX(0.917)">Е</i></div>
<div class="r" style="left:518.2px;top:1295.9px;--p:20.228px"><i style="transform:scaleX(0.773);-webkit-text-stroke-width:0.85px">М</i><i style="transform:scaleX(0.881);-webkit-text-stroke-width:0.64px">А</i><i style="transform:scaleX(0.974)">Т</i><i style="transform:scaleX(0.917)">Е</i><i style="transform:scaleX(0.971)">Р</i><i style="transform:scaleX(0.944)">И</i><i style="transform:scaleX(0.881);-webkit-text-stroke-width:0.64px">А</i><i style="transform:scaleX(0.972)">Л</i><i style="transform:scaleX(0.761);-webkit-text-stroke-width:0.88px">Ы</i></div>
<div class="r" style="left:1324.8px;top:1295.9px;--p:19.880px"><i style="transform:scaleX(0.971)">Р</i><i style="transform:scaleX(0.974)">У</i><i style="transform:scaleX(0.971)">Б</i><i class="p">.</i></div>
<div class="r" style="left:1584.1px;top:1295.9px;--p:20.053px"><i>2</i><i>9</i><i class="p">.</i><i>7</i><i>6</i></div>
<div class="r" style="left:1925.1px;top:1295.9px;--p:20.076px"><i>5</i><i>2</i><i class="p">.</i><i>0</i><i>8</i></div>
<div class="r" style="left:2265.9px;top:1295.9px;--p:19.982px"><i>6</i><i>0</i><i class="p">.</i><i>7</i><i>6</i></div>
<div class="r" style="left:2605.4px;top:1295.9px;--p:19.933px"><i>7</i><i>3</i><i class="p">.</i><i class="o">1</i><i>6</i></div>
<div class="r" style="left:396.9px;top:1333.8px;--p:20.228px"><i style="transform:scaleX(0.971)">В</i></div>
<div class="r" style="left:437.3px;top:1333.8px;--p:20.228px"><i style="transform:scaleX(0.974)">Т</i><i style="transform:scaleX(0.795);-webkit-text-stroke-width:0.81px">О</i><i style="transform:scaleX(0.773);-webkit-text-stroke-width:0.85px">М</i></div>
<div class="r" style="left:518.2px;top:1333.8px;--p:20.228px"><i style="transform:scaleX(0.971)">Ч</i><i style="transform:scaleX(0.944)">И</i><i style="transform:scaleX(0.875);-webkit-text-stroke-width:0.65px">С</i><i style="transform:scaleX(0.972)">Л</i><i style="transform:scaleX(0.917)">Е</i></div>
<div class="r" style="left:396.9px;top:1372.5px;--p:20.228px"><i style="transform:scaleX(0.974)">Т</i><i style="transform:scaleX(0.971)">Р</i><i style="transform:scaleX(0.881);-webkit-text-stroke-width:0.64px">А</i><i style="transform:scaleX(0.944)">Н</i><i style="transform:scaleX(0.875);-webkit-text-stroke-width:0.65px">С</i><i style="transform:scaleX(0.917)">П</i><i style="transform:scaleX(0.795);-webkit-text-stroke-width:0.81px">О</i><i style="transform:scaleX(0.971)">Р</i><i style="transform:scaleX(0.974)">Т</i><i style="transform:scaleX(0.944)">Н</i><i style="transform:scaleX(0.761);-webkit-text-stroke-width:0.88px">Ы</i><i style="transform:scaleX(0.917)">Е</i></div>
<div class="r" style="left:659.8px;top:1372.5px;--p:20.228px"><i style="transform:scaleX(0.971)">Р</i><i style="transform:scaleX(0.881);-webkit-text-stroke-width:0.64px">А</i><i style="transform:scaleX(0.875);-webkit-text-stroke-width:0.65px">С</i><i style="transform:scaleX(0.947)">Х</i><i style="transform:scaleX(0.795);-webkit-text-stroke-width:0.81px">О</i><i style="transform:scaleX(0.929)">Д</i><i style="transform:scaleX(0.761);-webkit-text-stroke-width:0.88px">Ы</i></div>
<div class="r" style="left:1324.8px;top:1372.5px;--p:19.880px"><i style="transform:scaleX(0.971)">Р</i><i style="transform:scaleX(0.974)">У</i><i style="transform:scaleX(0.971)">Б</i><i class="p">.</i></div>
<div class="r" style="left:1604.1px;top:1372.5px;--p:20.053px"><i>4</i><i class="p">.</i><i>4</i><i>6</i></div>
<div class="r" style="left:1945.2px;top:1372.5px;--p:20.076px"><i>7</i><i class="p">.</i><i>8</i><i class="o">1</i></div>
<div class="r" style="left:2285.9px;top:1372.5px;--p:19.982px"><i>9</i><i class="p">.</i><i class="o">1</i><i class="o">1</i></div>
<div class="r" style="left:2605.4px;top:1372.5px;--p:19.933px"><i class="o">1</i><i>0</i><i class="p">.</i><i>9</i><i>7</i></div>
<div class="r" style="left:376.6px;top:1449.2px;--p:20.228px"><i style="transform:scaleX(0.971)">З</i><i style="transform:scaleX(0.881);-webkit-text-stroke-width:0.64px">А</i><i style="transform:scaleX(0.971)">Р</i><i style="transform:scaleX(0.881);-webkit-text-stroke-width:0.64px">А</i><i style="transform:scaleX(0.917)">П</i><i style="transform:scaleX(0.881);-webkit-text-stroke-width:0.64px">А</i><i style="transform:scaleX(0.971)">Б</i><i style="transform:scaleX(0.795);-webkit-text-stroke-width:0.81px">О</i><i style="transform:scaleX(0.974)">Т</i><i style="transform:scaleX(0.944)">Н</i><i style="transform:scaleX(0.881);-webkit-text-stroke-width:0.64px">А</i><i style="transform:scaleX(0.917)">Я</i></div>
<div class="r" style="left:639.6px;top:1449.2px;--p:20.228px"><i style="transform:scaleX(0.917)">П</i><i style="transform:scaleX(0.972)">Л</i><i style="transform:scaleX(0.881);-webkit-text-stroke-width:0.64px">А</i><i style="transform:scaleX(0.974)">Т</i><i style="transform:scaleX(0.881);-webkit-text-stroke-width:0.64px">А</i></div>
<div class="r" style="left:761.0px;top:1449.2px;--p:20.207px"><i style="transform:scaleX(0.971)">Р</i><i style="transform:scaleX(0.881);-webkit-text-stroke-width:0.64px">А</i><i style="transform:scaleX(0.971)">Б</i><i style="transform:scaleX(0.795);-webkit-text-stroke-width:0.81px">О</i><i style="transform:scaleX(0.971)">Ч</i><i style="transform:scaleX(0.944)">И</i><i style="transform:scaleX(0.947)">Х</i><u>-</u><i style="transform:scaleX(0.875);-webkit-text-stroke-width:0.65px">С</i><i style="transform:scaleX(0.974)">Т</i><i style="transform:scaleX(0.971)">Р</i><i style="transform:scaleX(0.795);-webkit-text-stroke-width:0.81px">О</i><i style="transform:scaleX(0.944)">И</i><i style="transform:scaleX(0.974)">Т</i><i style="transform:scaleX(0.917)">Е</i><i style="transform:scaleX(0.972)">Л</i><i style="transform:scaleX(0.917)">Е</i><i style="transform:scaleX(0.944)">Й</i></div>
<div class="r" style="left:1324.8px;top:1449.2px;--p:19.880px"><i style="transform:scaleX(0.971)">Р</i><i style="transform:scaleX(0.974)">У</i><i style="transform:scaleX(0.971)">Б</i><i class="p">.</i></div>
<div class="r" style="left:1584.1px;top:1449.2px;--p:20.053px"><i>7</i><i>4</i></div>
<div class="r" style="left:1925.1px;top:1449.2px;--p:20.076px"><i>8</i><i>7</i></div>
<div class="r" style="left:2245.9px;top:1449.2px;--p:19.982px"><i class="o">1</i><i>0</i><i>2</i></div>
<div class="r" style="left:2585.4px;top:1449.2px;--p:19.933px"><i class="o">1</i><i>0</i><i>7</i></div>
<div class="r" style="left:376.6px;top:1487.3px;--p:20.228px"><i style="transform:scaleX(0.875);-webkit-text-stroke-width:0.65px">Э</i><i>К</i><i style="transform:scaleX(0.875);-webkit-text-stroke-width:0.65px">С</i><i style="transform:scaleX(0.917)">П</i><i style="transform:scaleX(0.972)">Л</i><i style="transform:scaleX(0.974)">У</i><i style="transform:scaleX(0.881);-webkit-text-stroke-width:0.64px">А</i><i style="transform:scaleX(0.974)">Т</i><i style="transform:scaleX(0.881);-webkit-text-stroke-width:0.64px">А</i><i style="transform:scaleX(0.881);-webkit-text-stroke-width:0.64px">Ц</i><i style="transform:scaleX(0.944)">И</i><i style="transform:scaleX(0.917)">Я</i></div>
<div class="r" style="left:639.6px;top:1487.3px;--p:20.228px"><i style="transform:scaleX(0.773);-webkit-text-stroke-width:0.85px">М</i><i style="transform:scaleX(0.881);-webkit-text-stroke-width:0.64px">А</i><i style="transform:scaleX(0.729);-webkit-text-stroke-width:0.94px">Ш</i><i style="transform:scaleX(0.944)">И</i><i style="transform:scaleX(0.944)">Н</i></div>
<div class="r" style="left:1324.8px;top:1487.3px;--p:19.880px"><i style="transform:scaleX(0.971)">Р</i><i style="transform:scaleX(0.974)">У</i><i style="transform:scaleX(0.971)">Б</i><i class="p">.</i></div>
<div class="r" style="left:1544.0px;top:1487.3px;--p:20.053px"><i class="o">1</i><i>3</i><i>6</i><i>8</i><i class="p">.</i><i>3</i><i>8</i></div>
<div class="r" style="left:1884.9px;top:1487.3px;--p:20.076px"><i class="o">1</i><i>3</i><i>9</i><i>7</i><i class="p">.</i><i>4</i><i>5</i></div>
<div class="r" style="left:2225.9px;top:1487.3px;--p:19.982px"><i class="o">1</i><i>5</i><i>4</i><i>9</i><i class="p">.</i><i>3</i><i class="o">1</i></div>
<div class="r" style="left:2565.5px;top:1487.3px;--p:19.933px"><i class="o">1</i><i>9</i><i class="o">1</i><i>7</i><i class="p">.</i><i>7</i><i>5</i></div>
<div class="r" style="left:396.9px;top:1526.3px;--p:20.228px"><i style="transform:scaleX(0.971)">В</i></div>
<div class="r" style="left:437.3px;top:1526.3px;--p:20.228px"><i style="transform:scaleX(0.974)">Т</i><i style="transform:scaleX(0.795);-webkit-text-stroke-width:0.81px">О</i><i style="transform:scaleX(0.773);-webkit-text-stroke-width:0.85px">М</i></div>
<div class="r" style="left:518.2px;top:1526.3px;--p:20.228px"><i style="transform:scaleX(0.971)">Ч</i><i style="transform:scaleX(0.944)">И</i><i style="transform:scaleX(0.875);-webkit-text-stroke-width:0.65px">С</i><i style="transform:scaleX(0.972)">Л</i><i style="transform:scaleX(0.917)">Е</i></div>
<div class="r" style="left:396.9px;top:1564.4px;--p:20.228px"><i style="transform:scaleX(0.971)">З</i><i style="transform:scaleX(0.881);-webkit-text-stroke-width:0.64px">А</i><i style="transform:scaleX(0.971)">Р</i><i style="transform:scaleX(0.881);-webkit-text-stroke-width:0.64px">А</i><i style="transform:scaleX(0.971)">Б</i><i style="transform:scaleX(0.795);-webkit-text-stroke-width:0.81px">О</i><i style="transform:scaleX(0.974)">Т</i><i style="transform:scaleX(0.944)">Н</i><i style="transform:scaleX(0.881);-webkit-text-stroke-width:0.64px">А</i><i style="transform:scaleX(0.917)">Я</i></div>
<div class="r" style="left:619.4px;top:1564.4px;--p:20.228px"><i style="transform:scaleX(0.917)">П</i><i style="transform:scaleX(0.972)">Л</i><i style="transform:scaleX(0.881);-webkit-text-stroke-width:0.64px">А</i><i style="transform:scaleX(0.974)">Т</i><i style="transform:scaleX(0.881);-webkit-text-stroke-width:0.64px">А</i></div>
<div class="r" style="left:740.7px;top:1564.4px;--p:20.228px"><i style="transform:scaleX(0.773);-webkit-text-stroke-width:0.85px">М</i><i style="transform:scaleX(0.881);-webkit-text-stroke-width:0.64px">А</i><i style="transform:scaleX(0.729);-webkit-text-stroke-width:0.94px">Ш</i><i style="transform:scaleX(0.944)">И</i><i style="transform:scaleX(0.944)">Н</i><i style="transform:scaleX(0.944)">И</i><i style="transform:scaleX(0.875);-webkit-text-stroke-width:0.65px">С</i><i style="transform:scaleX(0.974)">Т</i><i style="transform:scaleX(0.795);-webkit-text-stroke-width:0.81px">О</i><i style="transform:scaleX(0.971)">В</i></div>
<div class="r" style="left:1324.8px;top:1564.4px;--p:19.880px"><i style="transform:scaleX(0.971)">Р</i><i style="transform:scaleX(0.974)">У</i><i style="transform:scaleX(0.971)">Б</i><i class="p">.</i></div>
<div class="r" style="left:1564.0px;top:1564.4px;--p:20.053px"><i>2</i><i>7</i><i>6</i><i class="p">,</i><i>3</i><i class="o">1</i></div>
<div class="r" style="left:1905.0px;top:1564.4px;--p:20.076px"><i>2</i><i>7</i><i>9</i><i class="p">.</i><i>4</i><i>8</i></div>
<div class="r" style="left:2245.9px;top:1564.4px;--p:19.982px"><i>3</i><i>0</i><i>9</i><i class="p">.</i><i>7</i></div>
<div class="r" style="left:2585.4px;top:1564.4px;--p:19.933px"><i>3</i><i>6</i><i>2</i><i class="p">.</i><i>9</i><i>7</i></div>
<div class="r" style="left:376.6px;top:1603.0px;--p:20.228px"><i style="transform:scaleX(0.917)">П</i><i style="transform:scaleX(0.971)">Р</i><i style="transform:scaleX(0.795);-webkit-text-stroke-width:0.81px">О</i><i style="transform:scaleX(0.971)">Ч</i><i style="transform:scaleX(0.944)">И</i><i style="transform:scaleX(0.917)">Е</i></div>
<div class="r" style="left:518.2px;top:1603.0px;--p:20.228px"><i style="transform:scaleX(0.773);-webkit-text-stroke-width:0.85px">М</i><i style="transform:scaleX(0.881);-webkit-text-stroke-width:0.64px">А</i><i style="transform:scaleX(0.974)">Т</i><i style="transform:scaleX(0.917)">Е</i><i style="transform:scaleX(0.971)">Р</i><i style="transform:scaleX(0.944)">И</i><i style="transform:scaleX(0.881);-webkit-text-stroke-width:0.64px">А</i><i style="transform:scaleX(0.972)">Л</i><i style="transform:scaleX(0.761);-webkit-text-stroke-width:0.88px">Ы</i></div>
<div class="r" style="left:1324.8px;top:1603.0px;--p:19.880px"><i style="transform:scaleX(0.971)">Р</i><i style="transform:scaleX(0.974)">У</i><i style="transform:scaleX(0.971)">Б</i><i class="p">.</i></div>
<div class="r" style="left:1584.1px;top:1603.0px;--p:20.053px"><i>2</i><i>9</i><i class="p">,</i><i>7</i><i>6</i></div>
<div class="r" style="left:1925.1px;top:1603.0px;--p:20.076px"><i>5</i><i>2</i><i class="p">.</i><i>0</i><i>8</i></div>
<div class="r" style="left:2265.9px;top:1603.0px;--p:19.982px"><i>6</i><i>0</i><i class="p">.</i><i>7</i><i>6</i></div>
<div class="r" style="left:2605.4px;top:1603.0px;--p:19.933px"><i>7</i><i>3</i><i class="p">.</i><i class="o">1</i><i>6</i></div>
<div class="r" style="left:376.6px;top:1641.1px;--p:20.228px"><i style="transform:scaleX(0.971)">В</i><i style="transform:scaleX(0.875);-webkit-text-stroke-width:0.65px">С</i><i style="transform:scaleX(0.917)">Е</i><i>Г</i><i style="transform:scaleX(0.795);-webkit-text-stroke-width:0.81px">О</i><i class="p">,</i></div>
<div class="r" style="left:518.2px;top:1641.1px;--p:20.228px"><i style="transform:scaleX(0.917)">П</i><i style="transform:scaleX(0.971)">Р</i><i style="transform:scaleX(0.917)">Я</i><i style="transform:scaleX(0.773);-webkit-text-stroke-width:0.85px">М</i><i style="transform:scaleX(0.761);-webkit-text-stroke-width:0.88px">Ы</i><i style="transform:scaleX(0.917)">Е</i></div>
<div class="r" style="left:659.8px;top:1641.1px;--p:20.228px"><i style="transform:scaleX(0.971)">З</i><i style="transform:scaleX(0.881);-webkit-text-stroke-width:0.64px">А</i><i style="transform:scaleX(0.974)">Т</i><i style="transform:scaleX(0.971)">Р</i><i style="transform:scaleX(0.881);-webkit-text-stroke-width:0.64px">А</i><i style="transform:scaleX(0.974)">Т</i><i style="transform:scaleX(0.761);-webkit-text-stroke-width:0.88px">Ы</i></div>
<div class="r" style="left:1324.8px;top:1641.1px;--p:19.880px"><i style="transform:scaleX(0.971)">Р</i><i style="transform:scaleX(0.974)">У</i><i style="transform:scaleX(0.971)">Б</i><i class="p">.</i></div>
<div class="r" style="left:1544.0px;top:1641.1px;--p:20.053px"><i class="o">1</i><i>4</i><i>7</i><i>2</i><i class="p">.</i><i class="o">1</i><i>4</i></div>
<div class="r" style="left:1884.9px;top:1641.1px;--p:20.076px"><i class="o">1</i><i>5</i><i>3</i><i>6</i><i class="p">.</i><i>5</i><i>3</i></div>
<div class="r" style="left:2225.9px;top:1641.1px;--p:19.982px"><i class="o">1</i><i>7</i><i class="o">1</i><i>2</i><i class="p">.</i><i>0</i><i>7</i></div>
<div class="r" style="left:2565.5px;top:1641.1px;--p:19.933px"><i>2</i><i>0</i><i>9</i><i>7</i><i class="p">.</i><i>9</i><i class="o">1</i></div>
<div class="r" style="left:376.6px;top:1719.2px;--p:20.228px"><i style="transform:scaleX(0.773);-webkit-text-stroke-width:0.85px">М</i><i style="transform:scaleX(0.881);-webkit-text-stroke-width:0.64px">А</i><i style="transform:scaleX(0.974)">Т</i><i style="transform:scaleX(0.917)">Е</i><i style="transform:scaleX(0.971)">Р</i><i style="transform:scaleX(0.944)">И</i><i style="transform:scaleX(0.881);-webkit-text-stroke-width:0.64px">А</i><i style="transform:scaleX(0.972)">Л</i><i style="transform:scaleX(0.971)">Ь</i><i style="transform:scaleX(0.944)">Н</i><i style="transform:scaleX(0.761);-webkit-text-stroke-width:0.88px">Ы</i><i style="transform:scaleX(0.917)">Е</i></div>
<div class="r" style="left:639.6px;top:1719.2px;--p:20.228px"><i style="transform:scaleX(0.971)">Р</i><i style="transform:scaleX(0.917)">Е</i><i style="transform:scaleX(0.875);-webkit-text-stroke-width:0.65px">С</i><i style="transform:scaleX(0.974)">У</i><i style="transform:scaleX(0.971)">Р</i><i style="transform:scaleX(0.875);-webkit-text-stroke-width:0.65px">С</i><i style="transform:scaleX(0.761);-webkit-text-stroke-width:0.88px">Ы</i></div>
<div class="r" style="left:801.4px;top:1719.2px;--p:20.228px"><i>(</i><i>К</i><i style="transform:scaleX(0.971)">Р</i><i style="transform:scaleX(0.795);-webkit-text-stroke-width:0.81px">О</i><i style="transform:scaleX(0.773);-webkit-text-stroke-width:0.85px">М</i><i style="transform:scaleX(0.917)">Е</i></div>
<div class="r" style="left:1324.8px;top:1719.2px;--p:19.880px"><i style="transform:scaleX(0.971)">Р</i><i style="transform:scaleX(0.974)">У</i><i style="transform:scaleX(0.971)">Б</i><i class="p">.</i></div>
<div class="r" style="left:1544.0px;top:1719.2px;--p:20.053px"><i class="o">1</i><i>3</i><i>5</i><i>3</i><i class="p">.</i><i>3</i><i>6</i></div>
<div class="r" style="left:1884.9px;top:1719.2px;--p:20.076px"><i class="o">1</i><i>9</i><i>2</i><i>9</i><i class="p">.</i><i>3</i><i class="o">1</i></div>
<div class="r" style="left:2225.9px;top:1719.2px;--p:19.982px"><i>2</i><i>3</i><i>9</i><i class="o">1</i><i class="p">.</i><i>0</i><i>2</i></div>
<div class="r" style="left:2565.5px;top:1719.2px;--p:19.933px"><i>2</i><i>8</i><i class="o">1</i><i>7</i><i class="p">.</i><i>2</i><i>6</i></div>
<div class="r" style="left:376.6px;top:1757.9px;--p:20.228px"><i style="transform:scaleX(0.917)">П</i><i style="transform:scaleX(0.971)">Р</i><i style="transform:scaleX(0.944)">И</i><i style="transform:scaleX(0.944)">Н</i><i style="transform:scaleX(0.944)">И</i><i style="transform:scaleX(0.773);-webkit-text-stroke-width:0.85px">М</i><i style="transform:scaleX(0.881);-webkit-text-stroke-width:0.64px">А</i><i style="transform:scaleX(0.917)">Е</i><i style="transform:scaleX(0.773);-webkit-text-stroke-width:0.85px">М</i><i style="transform:scaleX(0.761);-webkit-text-stroke-width:0.88px">Ы</i><i style="transform:scaleX(0.947)">Х</i></div>
<div class="r" style="left:619.4px;top:1757.9px;--p:20.228px"><i style="transform:scaleX(0.917)">П</i><i style="transform:scaleX(0.795);-webkit-text-stroke-width:0.81px">О</i></div>
<div class="r" style="left:680.0px;top:1757.9px;--p:20.228px"><i style="transform:scaleX(0.917)">П</i><i style="transform:scaleX(0.971)">Р</i><i style="transform:scaleX(0.795);-webkit-text-stroke-width:0.81px">О</i><i style="transform:scaleX(0.917)">Е</i><i>К</i><i style="transform:scaleX(0.974)">Т</i><i style="transform:scaleX(0.974)">У</i><i class="p">,</i></div>
<div class="r" style="left:376.6px;top:1796.6px;--p:20.228px"><i style="transform:scaleX(0.795);-webkit-text-stroke-width:0.81px">О</i><i style="transform:scaleX(0.974)">Т</i><i style="transform:scaleX(0.773);-webkit-text-stroke-width:0.85px">М</i><i style="transform:scaleX(0.917)">Е</i><i style="transform:scaleX(0.971)">Ч</i><i style="transform:scaleX(0.917)">Е</i><i style="transform:scaleX(0.944)">Н</i><i style="transform:scaleX(0.944)">Н</i><i style="transform:scaleX(0.761);-webkit-text-stroke-width:0.88px">Ы</i><i style="transform:scaleX(0.947)">Х</i></div>
<div class="r" style="left:599.1px;top:1796.6px;--p:20.228px"><i style="transform:scaleX(0.875);-webkit-text-stroke-width:0.65px">С</i><i>К</i><i style="transform:scaleX(0.795);-webkit-text-stroke-width:0.81px">О</i><i style="transform:scaleX(0.971)">Б</i><i>К</i><i style="transform:scaleX(0.881);-webkit-text-stroke-width:0.64px">А</i><i style="transform:scaleX(0.773);-webkit-text-stroke-width:0.85px">М</i><i style="transform:scaleX(0.944)">И</i></div>
<div class="r" style="left:781.2px;top:1796.6px;--p:20.228px"><i style="transform:scaleX(0.944)">И</i></div>
<div class="r" style="left:821.6px;top:1796.6px;--p:20.228px"><i style="transform:scaleX(0.917)">П</i><i style="transform:scaleX(0.971)">Р</i><i style="transform:scaleX(0.795);-webkit-text-stroke-width:0.81px">О</i><i style="transform:scaleX(0.971)">Ч</i><i style="transform:scaleX(0.944)">И</i><i style="transform:scaleX(0.947)">Х</i><i>)</i></div>
<div class="r" style="left:396.9px;top:1835.9px;--p:20.228px"><i style="transform:scaleX(0.971)">В</i></div>
<div class="r" style="left:437.3px;top:1835.9px;--p:20.228px"><i style="transform:scaleX(0.974)">Т</i><i style="transform:scaleX(0.795);-webkit-text-stroke-width:0.81px">О</i><i style="transform:scaleX(0.773);-webkit-text-stroke-width:0.85px">М</i></div>
<div class="r" style="left:518.2px;top:1835.9px;--p:20.228px"><i style="transform:scaleX(0.971)">Ч</i><i style="transform:scaleX(0.944)">И</i><i style="transform:scaleX(0.875);-webkit-text-stroke-width:0.65px">С</i><i style="transform:scaleX(0.972)">Л</i><i style="transform:scaleX(0.917)">Е</i></div>
<div class="r" style="left:396.9px;top:1874.0px;--p:20.228px"><i style="transform:scaleX(0.974)">Т</i><i style="transform:scaleX(0.971)">Р</i><i style="transform:scaleX(0.881);-webkit-text-stroke-width:0.64px">А</i><i style="transform:scaleX(0.944)">Н</i><i style="transform:scaleX(0.875);-webkit-text-stroke-width:0.65px">С</i><i style="transform:scaleX(0.917)">П</i><i style="transform:scaleX(0.795);-webkit-text-stroke-width:0.81px">О</i><i style="transform:scaleX(0.971)">Р</i><i style="transform:scaleX(0.974)">Т</i><i style="transform:scaleX(0.944)">Н</i><i style="transform:scaleX(0.761);-webkit-text-stroke-width:0.88px">Ы</i><i style="transform:scaleX(0.917)">Е</i></div>
<div class="r" style="left:659.8px;top:1874.0px;--p:20.228px"><i style="transform:scaleX(0.971)">Р</i><i style="transform:scaleX(0.881);-webkit-text-stroke-width:0.64px">А</i><i style="transform:scaleX(0.875);-webkit-text-stroke-width:0.65px">С</i><i style="transform:scaleX(0.947)">Х</i><i style="transform:scaleX(0.795);-webkit-text-stroke-width:0.81px">О</i><i style="transform:scaleX(0.929)">Д</i><i style="transform:scaleX(0.761);-webkit-text-stroke-width:0.88px">Ы</i></div>
<div class="r" style="left:1324.8px;top:1874.0px;--p:19.880px"><i style="transform:scaleX(0.971)">Р</i><i style="transform:scaleX(0.974)">У</i><i style="transform:scaleX(0.971)">Б</i><i class="p">.</i></div>
<div class="r" style="left:1564.0px;top:1874.0px;--p:20.053px"><i class="o">1</i><i>9</i><i>3</i><i class="p">.</i><i>4</i><i class="o">1</i></div>
<div class="r" style="left:1905.0px;top:1874.0px;--p:20.076px"><i>2</i><i>7</i><i>6</i><i class="p">.</i><i>0</i><i>2</i></div>
<div class="r" style="left:2245.9px;top:1874.0px;--p:19.982px"><i>3</i><i>4</i><i>2</i><i class="p">.</i><i class="o">1</i><i>5</i></div>
<div class="r" style="left:2585.4px;top:1874.0px;--p:19.933px"><i>4</i><i>0</i><i>3</i><i class="p">.</i><i>0</i><i>9</i></div>
<div class="r d" style="left:356.4px;top:192.2px;--p:20.065px"><u>-</u><u>-</u><u>-</u><u>-</u><u>-</u><u>-</u><u>-</u><u>-</u><u>-</u><u>-</u><u>-</u><u>-</u><u>-</u><u>-</u><u>-</u><u>-</u><u>-</u><u>-</u><u>-</u><u>-</u><u>-</u><u>-</u><u>-</u><u>-</u><u>-</u><u>-</u><u>-</u><u>-</u><u>-</u><u>-</u><u>-</u><u>-</u><u>-</u><u>-</u><u>-</u><u>-</u><u>-</u><u>-</u><u>-</u><u>-</u><u>-</u><u>-</u><u>-</u><u>-</u><u>-</u><u>-</u><u>-</u><u>-</u><u>-</u><u>-</u><u>-</u><u>-</u><u>-</u><u>-</u><u>-</u><u>-</u><u>-</u><u>-</u><u>-</u><u>-</u><u>-</u><u>-</u><u>-</u><u>-</u><u>-</u><u>-</u><u>-</u><u>-</u><u>-</u><u>-</u><u>-</u><u>-</u><u>-</u><u>-</u><u>-</u><u>-</u><u>-</u><u>-</u><u>-</u><u>-</u><u>-</u><u>-</u><u>-</u><u>-</u><u>-</u><u>-</u><u>-</u><u>-</u><u>-</u><u>-</u><u>-</u><u>-</u><u>-</u><u>-</u><u>-</u><u>-</u><u>-</u><u>-</u><u>-</u><u>-</u><u>-</u><u>-</u><u>-</u><u>-</u><u>-</u><u>-</u><u>-</u><u>-</u><u>-</u><u>-</u><u>-</u><u>-</u><u>-</u><u>-</u><u>-</u><u>-</u><u>-</u><u>-</u><u>-</u><u>-</u><u>-</u><u>-</u><u>-</u><u>-</u><u>-</u></div>
<div class="r d" style="left:356.4px;top:423.0px;--p:20.065px"><u>-</u><u>-</u><u>-</u><u>-</u><u>-</u><u>-</u><u>-</u><u>-</u><u>-</u><u>-</u><u>-</u><u>-</u><u>-</u><u>-</u><u>-</u><u>-</u><u>-</u><u>-</u><u>-</u><u>-</u><u>-</u><u>-</u><u>-</u><u>-</u><u>-</u><u>-</u><u>-</u><u>-</u><u>-</u><u>-</u><u>-</u><u>-</u><u>-</u><u>-</u><u>-</u><u>-</u><u>-</u><u>-</u><u>-</u><u>-</u><u>-</u><u>-</u><u>-</u><u>-</u><u>-</u><u>-</u><u>-</u><u>-</u><u>-</u><u>-</u><u>-</u><u>-</u><u>-</u><u>-</u><u>-</u><u>-</u><u>-</u><u>-</u><u>-</u><u>-</u><u>-</u><u>-</u><u>-</u><u>-</u><u>-</u><u>-</u><u>-</u><u>-</u><u>-</u><u>-</u><u>-</u><u>-</u><u>-</u><u>-</u><u>-</u><u>-</u><u>-</u><u>-</u><u>-</u><u>-</u><u>-</u><u>-</u><u>-</u><u>-</u><u>-</u><u>-</u><u>-</u><u>-</u><u>-</u><u>-</u><u>-</u><u>-</u><u>-</u><u>-</u><u>-</u><u>-</u><u>-</u><u>-</u><u>-</u><u>-</u><u>-</u><u>-</u><u>-</u><u>-</u><u>-</u><u>-</u><u>-</u><u>-</u><u>-</u><u>-</u><u>-</u><u>-</u><u>-</u><u>-</u><u>-</u><u>-</u><u>-</u><u>-</u><u>-</u><u>-</u><u>-</u><u>-</u><u>-</u><u>-</u><u>-</u></div>
<div class="r d" style="left:356.4px;top:539.2px;--p:20.065px"><u>-</u><u>-</u><u>-</u><u>-</u><u>-</u><u>-</u><u>-</u><u>-</u><u>-</u><u>-</u><u>-</u><u>-</u><u>-</u><u>-</u><u>-</u><u>-</u><u>-</u><u>-</u><u>-</u><u>-</u><u>-</u><u>-</u><u>-</u><u>-</u><u>-</u><u>-</u><u>-</u><u>-</u><u>-</u><u>-</u><u>-</u><u>-</u><u>-</u><u>-</u><u>-</u><u>-</u><u>-</u><u>-</u><u>-</u><u>-</u><u>-</u><u>-</u><u>-</u><u>-</u><u>-</u><u>-</u><u>-</u><u>-</u><u>-</u><u>-</u><u>-</u><u>-</u><u>-</u><u>-</u><u>-</u><u>-</u><u>-</u><u>-</u><u>-</u><u>-</u><u>-</u><u>-</u><u>-</u><u>-</u><u>-</u><u>-</u><u>-</u><u>-</u><u>-</u><u>-</u><u>-</u><u>-</u><u>-</u><u>-</u><u>-</u><u>-</u><u>-</u><u>-</u><u>-</u><u>-</u><u>-</u><u>-</u><u>-</u><u>-</u><u>-</u><u>-</u><u>-</u><u>-</u><u>-</u><u>-</u><u>-</u><u>-</u><u>-</u><u>-</u><u>-</u><u>-</u><u>-</u><u>-</u><u>-</u><u>-</u><u>-</u><u>-</u><u>-</u><u>-</u><u>-</u><u>-</u><u>-</u><u>-</u><u>-</u><u>-</u><u>-</u><u>-</u><u>-</u><u>-</u><u>-</u><u>-</u><u>-</u><u>-</u><u>-</u><u>-</u><u>-</u><u>-</u><u>-</u><u>-</u><u>-</u></div>
<div class="r d" style="left:356.4px;top:1066.7px;--p:20.065px"><u>-</u><u>-</u><u>-</u><u>-</u><u>-</u><u>-</u><u>-</u><u>-</u><u>-</u><u>-</u><u>-</u><u>-</u><u>-</u><u>-</u><u>-</u><u>-</u><u>-</u><u>-</u><u>-</u><u>-</u><u>-</u><u>-</u><u>-</u><u>-</u><u>-</u><u>-</u><u>-</u><u>-</u><u>-</u><u>-</u><u>-</u><u>-</u><u>-</u><u>-</u><u>-</u><u>-</u><u>-</u><u>-</u><u>-</u><u>-</u><u>-</u><u>-</u><u>-</u><u>-</u><u>-</u><u>-</u><u>-</u><u>-</u><u>-</u><u>-</u><u>-</u><u>-</u><u>-</u><u>-</u><u>-</u><u>-</u><u>-</u><u>-</u><u>-</u><u>-</u><u>-</u><u>-</u><u>-</u><u>-</u><u>-</u><u>-</u><u>-</u><u>-</u><u>-</u><u>-</u><u>-</u><u>-</u><u>-</u><u>-</u><u>-</u><u>-</u><u>-</u><u>-</u><u>-</u><u>-</u><u>-</u><u>-</u><u>-</u><u>-</u><u>-</u><u>-</u><u>-</u><u>-</u><u>-</u><u>-</u><u>-</u><u>-</u><u>-</u><u>-</u><u>-</u><u>-</u><u>-</u><u>-</u><u>-</u><u>-</u><u>-</u><u>-</u><u>-</u><u>-</u><u>-</u><u>-</u><u>-</u><u>-</u><u>-</u><u>-</u><u>-</u><u>-</u><u>-</u><u>-</u><u>-</u><u>-</u><u>-</u><u>-</u><u>-</u><u>-</u><u>-</u><u>-</u><u>-</u><u>-</u><u>-</u></div>
<div class="r d" style="left:356.4px;top:1406.9px;--p:20.065px"><u>-</u><u>-</u><u>-</u><u>-</u><u>-</u><u>-</u><u>-</u><u>-</u><u>-</u><u>-</u><u>-</u><u>-</u><u>-</u><u>-</u><u>-</u><u>-</u><u>-</u><u>-</u><u>-</u><u>-</u><u>-</u><u>-</u><u>-</u><u>-</u><u>-</u><u>-</u><u>-</u><u>-</u><u>-</u><u>-</u><u>-</u><u>-</u><u>-</u><u>-</u><u>-</u><u>-</u><u>-</u><u>-</u><u>-</u><u>-</u><u>-</u><u>-</u><u>-</u><u>-</u><u>-</u><u>-</u><u>-</u><u>-</u><u>-</u><u>-</u><u>-</u><u>-</u><u>-</u><u>-</u><u>-</u><u>-</u><u>-</u><u>-</u><u>-</u><u>-</u><u>-</u><u>-</u><u>-</u><u>-</u><u>-</u><u>-</u><u>-</u><u>-</u><u>-</u><u>-</u><u>-</u><u>-</u><u>-</u><u>-</u><u>-</u><u>-</u><u>-</u><u>-</u><u>-</u><u>-</u><u>-</u><u>-</u><u>-</u><u>-</u><u>-</u><u>-</u><u>-</u><u>-</u><u>-</u><u>-</u><u>-</u><u>-</u><u>-</u><u>-</u><u>-</u><u>-</u><u>-</u><u>-</u><u>-</u><u>-</u><u>-</u><u>-</u><u>-</u><u>-</u><u>-</u><u>-</u><u>-</u><u>-</u><u>-</u><u>-</u><u>-</u><u>-</u><u>-</u><u>-</u><u>-</u><u>-</u><u>-</u><u>-</u><u>-</u><u>-</u><u>-</u><u>-</u><u>-</u><u>-</u><u>-</u></div>
<div class="r d" style="left:356.4px;top:1677.1px;--p:20.065px"><u>-</u><u>-</u><u>-</u><u>-</u><u>-</u><u>-</u><u>-</u><u>-</u><u>-</u><u>-</u><u>-</u><u>-</u><u>-</u><u>-</u><u>-</u><u>-</u><u>-</u><u>-</u><u>-</u><u>-</u><u>-</u><u>-</u><u>-</u><u>-</u><u>-</u><u>-</u><u>-</u><u>-</u><u>-</u><u>-</u><u>-</u><u>-</u><u>-</u><u>-</u><u>-</u><u>-</u><u>-</u><u>-</u><u>-</u><u>-</u><u>-</u><u>-</u><u>-</u><u>-</u><u>-</u><u>-</u><u>-</u><u>-</u><u>-</u><u>-</u><u>-</u><u>-</u><u>-</u><u>-</u><u>-</u><u>-</u><u>-</u><u>-</u><u>-</u><u>-</u><u>-</u><u>-</u><u>-</u><u>-</u><u>-</u><u>-</u><u>-</u><u>-</u><u>-</u><u>-</u><u>-</u><u>-</u><u>-</u><u>-</u><u>-</u><u>-</u><u>-</u><u>-</u><u>-</u><u>-</u><u>-</u><u>-</u><u>-</u><u>-</u><u>-</u><u>-</u><u>-</u><u>-</u><u>-</u><u>-</u><u>-</u><u>-</u><u>-</u><u>-</u><u>-</u><u>-</u><u>-</u><u>-</u><u>-</u><u>-</u><u>-</u><u>-</u><u>-</u><u>-</u><u>-</u><u>-</u><u>-</u><u>-</u><u>-</u><u>-</u><u>-</u><u>-</u><u>-</u><u>-</u><u>-</u><u>-</u><u>-</u><u>-</u><u>-</u><u>-</u><u>-</u><u>-</u><u>-</u><u>-</u><u>-</u></div>
<div class="r d" style="left:1503.9px;top:269.1px;--p:20.010px"><u>-</u><u>-</u><u>-</u><u>-</u><u>-</u><u>-</u><u>-</u><u>-</u><u>-</u><u>-</u><u>-</u><u>-</u><u>-</u><u>-</u><u>-</u><u>-</u><u>-</u><u>-</u><u>-</u><u>-</u><u>-</u><u>-</u><u>-</u><u>-</u><u>-</u><u>-</u><u>-</u><u>-</u><u>-</u><u>-</u><u>-</u><u>-</u><u>-</u><u>-</u><u>-</u><u>-</u><u>-</u><u>-</u><u>-</u><u>-</u><u>-</u><u>-</u><u>-</u><u>-</u><u>-</u><u>-</u><u>-</u><u>-</u><u>-</u><u>-</u><u>-</u><u>-</u><u>-</u><u>-</u><u>-</u><u>-</u><u>-</u><u>-</u><u>-</u><u>-</u><u>-</u><u>-</u><u>-</u><u>-</u><u>-</u><u>-</u><u>-</u><u>-</u></div>
<div class="r d" style="left:1503.9px;top:346.4px;--p:20.010px"><u>-</u><u>-</u><u>-</u><u>-</u><u>-</u><u>-</u><u>-</u><u>-</u><u>-</u><u>-</u><u>-</u><u>-</u><u>-</u><u>-</u><u>-</u><u>-</u><u>-</u><u>-</u><u>-</u><u>-</u><u>-</u><u>-</u><u>-</u><u>-</u><u>-</u><u>-</u><u>-</u><u>-</u><u>-</u><u>-</u><u>-</u><u>-</u><u>-</u><u>-</u><u>-</u><u>-</u><u>-</u><u>-</u><u>-</u><u>-</u><u>-</u><u>-</u><u>-</u><u>-</u><u>-</u><u>-</u><u>-</u><u>-</u><u>-</u><u>-</u><u>-</u><u>-</u><u>-</u><u>-</u><u>-</u><u>-</u><u>-</u><u>-</u><u>-</u><u>-</u><u>-</u><u>-</u><u>-</u><u>-</u><u>-</u><u>-</u><u>-</u><u>-</u></div>
<div class="r" style="left:1404.3px;top:1094.7px;--p:19.880px"><i>2</i></div>
<div class="r" style="left:1344.6px;top:1207.2px;--p:19.880px"><i>2</i></div>
</div><div id="pn"><span class="o">1</span>55</div></body></html>
